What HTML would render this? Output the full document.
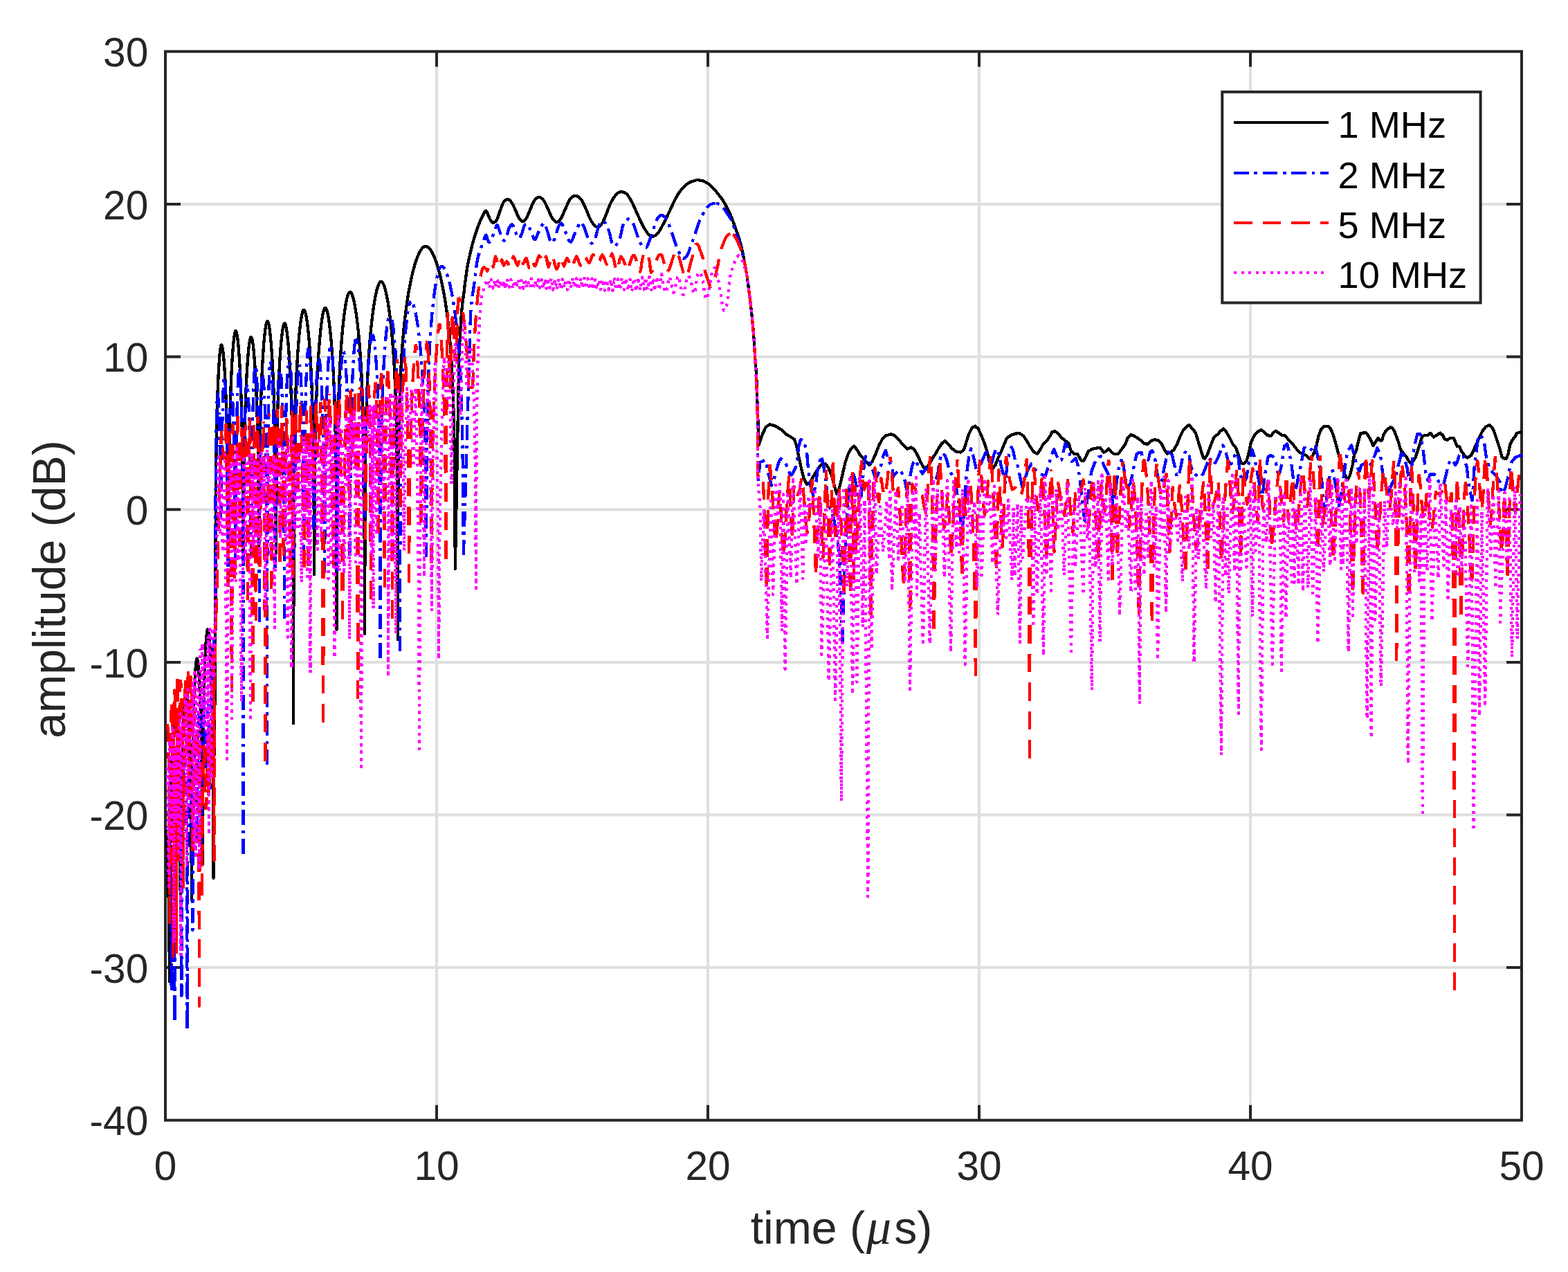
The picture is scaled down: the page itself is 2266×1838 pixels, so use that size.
<!DOCTYPE html>
<html lang="en"><head><meta charset="utf-8"><title>amplitude vs time</title>
<style>html,body{margin:0;padding:0;background:#fff}svg{display:block}text{font-family:"Liberation Sans",Arial,Helvetica,sans-serif;fill:#262626}.tk{font-size:58.6px}.lb{font-size:66.2px}.lg{font-size:54.2px;fill:#000}.mu{font-family:"Liberation Serif","DejaVu Serif",serif;font-style:italic;font-size:72px}</style></head><body>
<svg xmlns="http://www.w3.org/2000/svg" width="2266" height="1838" viewBox="0 0 2266 1838">
<rect x="0" y="0" width="2266" height="1838" fill="#fff"/>
<path d="M631.0 74.4V1618.7M1023.0 74.4V1618.7M1415.0 74.4V1618.7M1807.0 74.4V1618.7M239.0 295.0H2199.0M239.0 515.6H2199.0M239.0 736.2H2199.0M239.0 956.9H2199.0M239.0 1177.5H2199.0M239.0 1398.1H2199.0" stroke="#dfdfdf" stroke-width="4" fill="none"/>
<path d="M631.0 1618.7v-22M631.0 74.4v22M1023.0 1618.7v-22M1023.0 74.4v22M1415.0 1618.7v-22M1415.0 74.4v22M1807.0 1618.7v-22M1807.0 74.4v22M239.0 295.0h22M2199.0 295.0h-22M239.0 515.6h22M2199.0 515.6h-22M239.0 736.2h22M2199.0 736.2h-22M239.0 956.9h22M2199.0 956.9h-22M239.0 1177.5h22M2199.0 1177.5h-22M239.0 1398.1h22M2199.0 1398.1h-22" stroke="#262626" stroke-width="4" fill="none"/>
<rect x="239.0" y="74.4" width="1960.0" height="1544.3" fill="none" stroke="#262626" stroke-width="4"/>
<clipPath id="cp"><rect x="237.0" y="72.4" width="1964.0" height="1548.3"/></clipPath>
<g clip-path="url(#cp)" fill="none" stroke-linejoin="round" shape-rendering="crispEdges">
<path d="M239.5 1200L240.1 1202.3L240.8 1209L241.4 1219.8L242.1 1234.9L242.7 1254.8L243.4 1281L244 1317.9L244.7 1380L245.3 1418.6L245.9 1245.8L246.6 1183.7L247.2 1147.2L247.9 1121L248.5 1100.6L249.2 1084.2L249.8 1070.7L250.4 1059.8L251.1 1051.3L251.7 1045.1L252.4 1041.3L253 1040L253.6 1041.1L254.2 1044.4L254.8 1049.7L255.5 1057L256.1 1066.2L256.7 1077.6L257.3 1091.3L257.9 1107.9L258.5 1128.3L259.2 1154.5L259.8 1190.9L260.4 1253L261 1330L261.6 1219.7L262.2 1157.6L262.8 1121.2L263.4 1095.1L264 1074.7L264.6 1058.1L265.2 1044.2L265.9 1032.5L266.5 1022.7L267.1 1014.7L267.7 1008.4L268.3 1003.8L268.9 1001L269.5 1000L270.1 1001.3L270.8 1005.1L271.4 1011.3L272 1019.8L272.6 1030.7L273.2 1044.2L273.9 1060.6L274.5 1081L275.1 1107.2L275.8 1143.7L276.4 1205.8L277 1300L277.6 1164.6L278.2 1102.5L278.8 1066.1L279.4 1039.9L280 1019.5L280.6 1002.9L281.2 989.2L281.8 977.8L282.4 968.6L283 961.3L283.6 956L284.2 952.7L284.8 951.6L285.4 952.9L286.1 956.7L286.7 962.9L287.4 971.4L288 982.3L288.6 995.8L289.3 1012.2L289.9 1032.6L290.6 1058.8L291.2 1095.3L291.9 1157.4L292.5 1250L293.1 1115.3L293.8 1053.2L294.4 1016.7L295.1 990.5L295.7 970.1L296.4 953.7L297 940.2L297.6 929.3L298.3 920.8L298.9 914.6L299.6 910.8L300.2 909.5L300.8 910.6L301.5 913.9L302.1 919.2L302.8 926.5L303.4 935.7L304 947.1L304.7 960.8L305.3 977.4L305.9 997.8L306.6 1024L307.2 1060.4L307.9 1122.5L308.5 1269L309.2 1107.2L309.9 1044.2L310.5 1011.3L311.2 1000L311.7 738.6L312.2 676.3L312.7 640L313.2 614.1L313.7 593.9L314.2 577.3L314.7 563.2L315.2 551L315.7 540.5L316.2 531.3L316.7 523.3L317.2 516.4L317.7 510.7L318.2 506L318.7 502.4L319.2 499.9L319.7 498.5L320.2 498.4L320.7 499.2L321.2 501L321.7 503.5L322.2 507L322.7 511.2L323.2 516.3L323.7 522.2L324.2 528.9L324.7 536.5L325.2 545.2L325.7 554.9L326.2 565.9L326.7 578.4L327.2 592.9L327.7 610.1L328.2 631.2L328.7 658.6L329.2 698.1L329.7 771.4L330.1 800L330.6 735.5L331.1 673L331.6 636.7L332.1 610.9L332.6 590.8L333.1 574.2L333.6 560.2L334.1 548L334.6 537.2L335.1 527.7L335.6 519.2L336.1 511.6L336.6 504.8L337.1 498.9L337.6 493.7L338.1 489.2L338.6 485.5L339.1 482.5L339.6 480.3L340.1 478.9L340.6 478.3L341.1 478.6L341.6 479.6L342.1 481.4L342.6 483.9L343.1 487.2L343.6 491.1L344.1 495.7L344.6 501.1L345.1 507.2L345.6 514L346.1 521.7L346.6 530.2L347.1 539.8L347.6 550.5L348.1 562.7L348.6 576.8L349.1 593.3L349.6 613.4L350.1 639.2L350.6 675.5L351.1 738L351.6 800L352.1 749.3L352.6 686.7L353.1 650.4L353.6 624.7L354.1 604.6L354.6 588.1L355.1 574L355.6 561.8L356.1 551L356.6 541.5L357.1 532.9L357.6 525.2L358.1 518.3L358.6 512.1L359.1 506.6L359.6 501.8L360.1 497.7L360.6 494.2L361.1 491.4L361.6 489.3L362.1 487.8L362.6 487.2L363.1 487.2L363.6 488L364.1 489.5L364.6 491.7L365.1 494.4L365.6 497.9L366.1 501.9L366.6 506.6L367.1 511.9L367.6 517.9L368.1 524.6L368.6 532L369.1 540.3L369.6 549.5L370.1 559.8L370.6 571.4L371.1 584.6L371.6 600L372.1 618.5L372.6 641.6L373.1 672.8L373.6 721.2L374.1 800L374.8 734L375.3 671.3L375.8 635L376.3 609.2L376.8 589.2L377.3 572.7L377.8 558.7L378.3 546.5L378.8 535.8L379.3 526.1L379.8 517.5L380.3 509.6L380.8 502.5L381.3 496.1L381.8 490.3L382.3 485.1L382.8 480.5L383.3 476.5L383.8 472.9L384.3 470L384.8 467.6L385.3 465.8L385.8 464.6L386.3 464.1L386.8 464.1L387.3 464.8L387.8 466.1L388.3 468L388.8 470.4L389.3 473.5L389.8 477L390.3 481.1L390.8 485.8L391.3 491L391.8 496.8L392.3 503.3L392.8 510.4L393.3 518.2L393.8 526.9L394.3 536.5L394.8 547.3L395.3 559.5L395.8 573.5L396.3 589.9L396.8 610L397.3 635.7L397.8 672L398.3 734.7L398.8 800L399.3 738.7L399.8 676L400.3 639.6L400.8 613.9L401.3 593.8L401.8 577.4L402.3 563.4L402.8 551.2L403.3 540.5L403.8 530.8L404.3 522.1L404.8 514.3L405.3 507.2L405.8 500.7L406.3 494.9L406.8 489.6L407.3 484.9L407.8 480.8L408.3 477.2L408.8 474.1L409.3 471.6L409.8 469.6L410.3 468.2L410.8 467.4L411.3 467.2L411.8 467.6L412.3 468.6L412.8 470.1L413.3 472.1L413.8 474.7L414.3 477.7L414.8 481.2L415.3 485.3L415.8 489.8L416.3 494.9L416.8 500.5L417.3 506.7L417.8 513.5L418.3 520.9L418.8 529.1L419.3 538.2L419.8 548.2L420.3 559.5L420.8 572.3L421.3 587.2L421.8 604.9L422.3 626.9L422.8 656L423.3 699.6L423.8 789.2L424.1 1045.3L424.6 737.4L425.1 674.4L425.6 638L426.1 612.2L426.6 592.2L427.1 575.9L427.6 562L428.1 549.9L428.6 539.1L429.1 529.5L429.6 520.8L430.1 512.9L430.6 505.6L431.1 498.9L431.6 492.7L432.1 486.9L432.6 481.7L433.1 476.8L433.6 472.3L434.1 468.3L434.6 464.6L435.1 461.2L435.6 458.2L436.1 455.6L436.6 453.4L437.1 451.5L437.6 450L438.1 448.9L438.6 448.2L439.1 447.9L439.6 448L440.1 448.6L440.6 449.6L441.1 450.9L441.6 452.7L442.1 454.8L442.6 457.3L443.1 460.1L443.6 463.4L444.1 467L444.6 471L445.1 475.3L445.6 480.1L446.1 485.3L446.6 490.9L447.1 497L447.6 503.6L448.1 510.7L448.6 518.6L449.1 527.1L449.6 536.5L450.1 547L450.6 558.8L451.1 572.3L451.6 588.1L452.1 607.3L452.6 631.6L453.1 665.2L453.6 720.1L454.1 830L454.7 739.3L455.2 676.2L455.7 639.8L456.2 614L456.7 594.1L457.2 577.7L457.7 563.8L458.2 551.7L458.7 541L459.2 531.4L459.7 522.7L460.2 514.8L460.7 507.5L461.2 500.7L461.7 494.5L462.2 488.7L462.7 483.3L463.2 478.4L463.7 473.8L464.2 469.6L464.7 465.7L465.2 462.1L465.7 458.9L466.2 456L466.7 453.5L467.2 451.2L467.7 449.3L468.2 447.8L468.7 446.6L469.2 445.7L469.7 445.2L470.2 445.1L470.7 445.4L471.2 446L471.7 446.9L472.2 448.2L472.7 449.8L473.2 451.7L473.7 453.9L474.2 456.4L474.7 459.3L475.2 462.4L475.7 465.9L476.2 469.7L476.7 473.8L477.2 478.2L477.7 483L478.2 488.2L478.7 493.7L479.2 499.7L479.7 506.2L480.2 513.1L480.7 520.7L481.2 529L481.7 538L482.2 548L482.7 559.2L483.2 571.9L483.7 586.7L484.2 604.3L484.7 626.2L485.2 655.4L485.7 699.2L486.2 789.3L486.5 909.8L487 733.5L487.5 670.1L488 633.5L488.5 607.7L489 587.8L489.5 571.4L490 557.6L490.5 545.6L491 535L491.5 525.4L492 516.7L492.5 508.8L493 501.5L493.5 494.7L494 488.4L494.5 482.5L495 477L495.5 471.8L496 467L496.5 462.4L497 458.2L497.5 454.2L498 450.4L498.5 446.9L499 443.6L499.5 440.6L500 437.7L500.5 435.1L501 432.8L501.5 430.6L502 428.7L502.5 427L503 425.6L503.5 424.4L504 423.4L504.5 422.6L505 422.2L505.5 421.9L506 421.9L506.5 422.2L507 422.6L507.5 423.2L508 424.1L508.5 425.1L509 426.3L509.5 427.7L510 429.3L510.5 431.1L511 433L511.5 435.2L512 437.5L512.5 440L513 442.7L513.5 445.5L514 448.6L514.5 451.8L515 455.3L515.5 458.9L516 462.8L516.5 466.9L517 471.2L517.5 475.8L518 480.7L518.5 485.8L519 491.3L519.5 497.1L520 503.4L520.5 510L521 517.2L521.5 525L522 533.5L522.5 542.8L523 553.1L523.5 564.8L524 578.2L524.5 593.9L525 613.1L525.5 637.5L526 671.3L526.5 726.7L527 894.2L527.1 915.7L527.6 737.5L528.1 673.9L528.6 637.1L529.1 611.2L529.6 591.2L530.1 574.9L530.6 561.1L531.1 549.1L531.6 538.6L532.1 529.1L532.6 520.5L533.1 512.6L533.6 505.3L534.1 498.6L534.6 492.3L535.1 486.4L535.6 480.8L536.1 475.6L536.6 470.7L537.1 466L537.6 461.6L538.1 457.4L538.6 453.4L539.1 449.6L539.6 446L540.1 442.5L540.6 439.3L541.1 436.2L541.6 433.3L542.1 430.5L542.6 427.9L543.1 425.5L543.6 423.2L544.1 421L544.6 419L545.1 417.1L545.6 415.4L546.1 413.9L546.6 412.5L547.1 411.2L547.6 410.1L548.1 409.2L548.6 408.4L549.1 407.8L549.6 407.3L550.1 407L550.6 406.9L551.1 407L551.6 407.2L552.1 407.5L552.6 408.1L553.1 408.8L553.6 409.6L554.1 410.6L554.6 411.8L555.1 413.1L555.6 414.5L556.1 416.1L556.6 417.8L557.1 419.7L557.6 421.7L558.1 423.8L558.6 426.1L559.1 428.6L559.6 431.1L560.1 433.9L560.6 436.8L561.1 439.8L561.6 443L562.1 446.4L562.6 450L563.1 453.7L563.6 457.6L564.1 461.8L564.6 466.1L565.1 470.7L565.6 475.5L566.1 480.6L566.6 486L567.1 491.8L567.6 497.9L568.1 504.5L568.6 511.5L569.1 519.1L569.6 527.4L570.1 536.5L570.6 546.6L571.1 558L571.6 571L572.1 586.2L572.6 604.5L573.1 627.7L573.6 659.2L574.1 708.4L574.6 825L574.8 923.8L575.3 736.2L575.8 671.8L576.3 634.5L576.8 608.4L577.3 588.2L577.8 571.7L578.3 557.9L578.8 545.9L579.3 535.4L579.8 525.9L580.3 517.4L580.8 509.6L581.3 502.5L581.8 495.8L582.3 489.6L582.8 483.8L583.3 478.4L583.8 473.2L584.3 468.3L584.8 463.7L585.3 459.2L585.8 455L586.3 451L586.8 447.1L587.3 443.4L587.8 439.8L588.3 436.3L588.8 433L589.3 429.8L589.8 426.7L590.3 423.7L590.8 420.8L591.3 418L591.8 415.3L592.3 412.6L592.8 410.1L593.3 407.6L593.8 405.2L594.3 402.9L594.8 400.6L595.3 398.4L595.8 396.3L596.3 394.2L596.8 392.2L597.3 390.3L597.8 388.4L598.3 386.5L598.8 384.8L599.3 383L599.8 381.4L600.3 379.8L600.8 378.2L601.3 376.7L601.8 375.3L602.3 373.9L602.8 372.5L603.3 371.2L603.8 370L604.3 368.8L604.8 367.7L605.3 366.6L605.8 365.6L606.3 364.6L606.8 363.6L607.3 362.8L607.8 361.9L608.3 361.1L608.8 360.4L609.3 359.8L609.8 359.1L610.3 358.6L610.8 358.1L611.3 357.6L611.8 357.2L612.3 356.9L612.8 356.6L613.3 356.3L613.8 356.2L614.3 356.1L614.8 356L615.3 356L615.8 356.1L616.3 356.2L616.8 356.3L617.3 356.6L617.8 356.8L618.3 357.1L618.8 357.5L619.3 357.9L619.8 358.3L620.3 358.9L620.8 359.4L621.3 360L621.8 360.6L622.3 361.3L622.8 362.1L623.3 362.9L623.8 363.7L624.3 364.6L624.8 365.5L625.3 366.4L625.8 367.4L626.3 368.5L626.8 369.6L627.3 370.7L627.8 371.9L628.3 373.2L628.8 374.4L629.3 375.8L629.8 377.1L630.3 378.5L630.8 380L631.3 381.5L631.8 383.1L632.3 384.7L632.8 386.3L633.3 388L633.8 389.8L634.3 391.6L634.8 393.4L635.3 395.4L635.8 397.3L636.3 399.3L636.8 401.4L637.3 403.6L637.8 405.8L638.3 408L638.8 410.3L639.3 412.7L639.8 415.2L640.3 417.7L640.8 420.4L641.3 423L641.8 425.8L642.3 428.7L642.8 431.7L643.3 434.7L643.8 437.9L644.3 441.2L644.8 444.5L645.3 448.1L645.8 451.7L646.3 455.5L646.8 459.5L647.3 463.6L647.8 468L648.3 472.5L648.8 477.3L649.3 482.3L649.8 487.7L650.3 493.3L650.8 499.3L651.3 505.8L651.8 512.7L652.3 520.3L652.8 528.5L653.3 537.5L653.8 547.6L654.3 558.9L654.8 572L655.3 587.3L655.8 605.8L656.3 629.3L656.8 661.2L657.3 711.1L657.8 822.2L663.4 512.1L664 500.9L664.9 484.7L665.9 467.6L666.9 453.6L667.7 444.2L668.5 437L669.4 430.5L670.4 423.3L671.4 414.7L672.6 405.6L673.8 396.6L675 388.2L676.4 380.6L677.9 373.3L679.4 366.5L680.9 360.2L682.3 354.3L683.8 348.9L685.3 343.9L686.7 339.2L688.2 334.7L689.6 330.5L691.1 326.5L692.6 322.8L694.1 319.2L695.6 315.7L697.1 312.6L698.4 310L699.6 307.8L700.6 305.9L701.6 304.7L702.6 304.6L703.6 305.9L704.6 308.3L705.6 311.1L706.6 313.5L707.5 315.4L708.4 317.2L709.2 318.8L710.1 320L710.9 320.9L711.8 321.5L712.6 321.8L713.6 321.6L714.7 321.1L715.9 320.2L717.1 318.9L718.3 317L719.4 314.3L720.6 311L721.8 307.4L722.9 304.1L724.1 300.9L725.2 297.7L726.4 294.8L727.6 292.4L729 290.7L730.5 289.3L732 288.5L733.5 288.2L734.9 288.5L736.4 289.3L737.8 290.7L739.3 292.4L740.8 294.9L742.3 297.9L743.8 301.1L745.1 304.1L746.4 306.9L747.5 309.8L748.6 312.4L749.8 314.6L751.1 316.6L752.3 318.2L753.6 319.5L755 320L756.3 319.8L757.6 319L758.9 317.7L760.3 315.8L761.8 313.2L763.2 309.9L764.7 306.4L766.2 302.9L767.6 299.6L769 296L770.5 292.8L772 290.1L773.7 288L775.4 286.4L777.2 285.3L779 285L780.8 285.4L782.6 286.5L784.4 288.1L786 290.1L787.6 292.5L789 295.5L790.4 298.6L791.9 301.8L793.3 305.1L794.7 308.5L796.2 311.8L797.7 314.6L799.3 316.9L801 318.9L802.6 320.3L804.3 320.9L805.8 320.7L807.4 319.7L808.9 318.1L810.6 315.8L812.3 312.7L814 308.8L815.8 304.6L817.6 300.6L819.3 296.8L821.1 292.9L822.8 289.3L824.6 286.6L826.3 284.8L828.1 283.7L829.8 283.2L831.6 283.1L833.3 283.2L835.1 283.8L836.8 284.9L838.6 286.6L840.4 289.1L842.1 292.2L843.9 295.8L845.6 299.4L847.4 303.4L849.2 307.8L850.9 312.1L852.6 315.8L854.2 318.8L855.6 321.3L857.1 323.4L858.5 325.1L859.8 326.5L861.1 327.4L862.4 328L863.8 327.9L865.4 327.4L867 326.4L868.6 324.8L870.1 322.8L871.6 320.2L873 317.2L874.4 313.7L876 310L877.6 305.8L879.3 301.1L881.1 296.5L883 292.4L885 288.8L887.1 285.4L889.1 282.6L891.2 280.3L893.1 278.7L894.9 277.8L896.8 277.3L898.6 277.2L900.6 277.6L902.5 278.3L904.5 279.5L906.4 281.2L908.2 283.4L909.9 286.1L911.6 289.2L913.4 292.4L915.1 295.9L916.8 299.6L918.5 303.6L920.4 307.6L922.3 311.9L924.4 316.5L926.5 321L928.6 325.1L930.6 328.9L932.7 332.4L934.8 335.5L936.7 338L938.6 339.7L940.3 340.8L942 341.4L943.7 341.5L945.5 341.1L947.2 340.1L949 338.7L950.7 336.8L952.4 334.6L954.1 331.9L955.8 328.7L957.8 325.1L959.9 321L962.3 316.3L964.7 311.4L967.1 306.4L969.4 301.4L971.8 296.2L974.1 291.2L976.4 286.6L978.8 282.5L981.1 278.8L983.5 275.5L985.8 272.6L988.1 270L990.5 267.8L992.8 266L995.1 264.4L997.6 263.1L1000.1 262.2L1002.5 261.5L1004.5 260.9L1005.9 260.4L1006.8 260.2L1007.8 260.1L1009.2 260.2L1011.2 260.5L1013.5 260.9L1016.1 261.6L1018.5 262.5L1020.8 263.8L1023.2 265.3L1025.5 267.1L1027.9 269.1L1030.2 271.4L1032.5 273.9L1034.9 276.7L1037.2 279.6L1039.5 282.5L1041.9 285.5L1044.2 288.8L1046.5 292.4L1048.9 296.7L1051.4 301.4L1053.7 306.3L1055.9 311.1L1057.8 315.7L1059.5 320.3L1061.2 325L1062.9 329.8L1064.7 334.9L1066.5 340.2L1068.3 345.5L1069.9 350.8L1071.2 356L1072.4 361.1L1073.5 366.3L1074.6 371.9L1075.8 378L1077 384.4L1078.2 391L1079.3 397.6L1080.2 403.9L1081.1 410.1L1081.9 416.5L1082.8 423.3L1083.7 430.7L1084.6 438.6L1085.5 446.4L1086.3 453.6L1086.9 459.7L1087.5 465L1088 470.5L1088.6 477L1089.2 484.9L1089.8 493.8L1090.4 503L1090.9 512.1L1091.5 520.8L1092.2 529.6L1092.8 538.3L1093.3 547.1L1093.6 555.8L1093.9 564.5L1094.2 573.2L1094.4 582.1L1094.8 592.3L1095.1 603.3L1095.4 613.1L1095.6 620L1095.6 606.7L1096.8 642.9L1100.7 630.1L1106.6 617.2L1112.4 613.3L1120.6 615.6L1128.8 620.7L1135.8 627.3L1142.8 631.3L1147.9 634.8L1151 644.1L1154.5 660.5L1158 676.8L1161.5 690.8L1166.2 700.2L1170.8 696.7L1176.7 686.2L1182.5 676.8L1188.4 669.8L1193 670.3L1197.7 676.8L1202.4 688.5L1205.9 702.5L1209.4 714.2L1212.9 704.9L1216.4 690.8L1221.1 669.8L1225.7 655.8L1230.4 647.6L1234.4 644.6L1238.6 650L1243.3 658.1L1247.9 662.8L1252.6 668.6L1256.8 672.1L1260.8 666.3L1265.5 655.8L1270.1 644.1L1274.8 634.8L1279.5 629.6L1287.7 627.3L1293.5 629.6L1299.3 635.9L1305.2 642.9L1311 648.8L1316.9 646.4L1321.5 650L1326.2 658.1L1330.9 668.6L1335.6 676.8L1340.2 674.5L1343.7 669.8L1347.2 662.8L1351.9 655.8L1356.6 647.6L1361.3 640.6L1365.9 637.1L1370.6 641.8L1375.3 647.6L1381.1 652.3L1388.1 653.5L1392.8 650L1396.3 639.4L1399.8 627.8L1404.5 618.4L1409.2 615.6L1413.8 619.6L1418.5 630.1L1423.2 641.8L1426.7 653.5L1430.2 667.5L1433.7 678L1438.4 672.1L1441.9 662.8L1446.5 653.5L1451.2 641.8L1454.7 633.6L1460.6 628.9L1467.6 626.6L1473.4 626.1L1479.3 630.1L1483.9 637.1L1488.6 645.3L1494.4 653.5L1499.1 655.8L1503.8 648.8L1507.3 641.8L1514.3 634.8L1519 627.8L1520 624.3L1524.7 623.1L1529.3 626.6L1534 632.4L1539.9 637.1L1544.5 640.6L1548 652.3L1552.7 655.8L1557.4 656.3L1562.1 665.1L1565.6 666.3L1569.1 660.5L1572.6 652.3L1578.4 648.8L1584.3 647.6L1590.1 646.9L1594.8 653.5L1598.3 652.3L1601.8 648.3L1606.4 653.5L1610 655.8L1615.8 655.8L1620.5 650L1626.3 641.8L1629.8 632.4L1634.5 628.2L1639.2 630.1L1643.8 632.9L1649.7 637.1L1654.3 641.3L1659 641.8L1663.7 637.1L1668.4 635.2L1674.2 636.6L1678.9 641.8L1683.6 651.1L1687.1 655.8L1691.7 653.5L1696.4 650L1701.1 641.8L1705.7 630.1L1710.4 620.7L1715.1 616.1L1718.6 614.2L1723.3 619.6L1727.9 625.4L1731.4 637.1L1735 648.8L1738.5 660.5L1740.8 662.8L1744.3 658.1L1747.8 648.8L1751.3 639.4L1754.8 631.3L1759.5 627.8L1764.2 622.6L1768.1 619.6L1772.3 624.3L1777 632.4L1781.7 641.8L1786.4 647.6L1789.9 658.1L1793.4 668.6L1796.9 670.3L1801.5 666.3L1805 653.5L1807.9 639.4L1812.1 630.1L1816.7 624.3L1822.6 621.2L1827.2 624.3L1831.9 628.9L1836.6 630.1L1840.1 625.4L1843.6 622.6L1848.3 625.9L1852.9 628.9L1857.6 629.6L1862.3 635.9L1868.1 641.8L1872.8 647.6L1877.5 653.5L1882.1 655.8L1888 658.1L1892.7 662.8L1897.3 658.1L1902 646.4L1905.5 630.1L1909 620.7L1913.7 616.1L1919.5 616.1L1923 619.6L1926.5 627.8L1930 639.4L1933.6 653.5L1937.1 665.1L1940.6 676.8L1944.1 687.3L1947.6 693.2L1951.1 686.2L1954.6 672.1L1956.9 658.1L1960 651.1L1962.8 638.5L1966.3 625.9L1973.3 625.2L1976.8 628.7L1981 635.7L1984.5 644.1L1988 638.5L1991.5 632.9L1994.3 636.4L1997.1 636.4L1999.3 628.7L2002.1 623.8L2005.6 620.3L2009.1 617.2L2012.6 618.9L2015.4 623.8L2018.2 631.5L2021 638.5L2023.1 646.9L2025.9 652.5L2029.4 656.7L2032.9 660.9L2036.4 667.2L2038.5 669.1L2042.7 665.8L2045.5 660.9L2048.3 652.5L2051.1 644.1L2053.2 637.1L2055.3 630.1L2059.5 629L2063.7 628.7L2067.2 625.9L2072.1 631.5L2076.4 628.7L2081.3 625.6L2084.8 628.7L2087.6 634.3L2091.8 635.7L2096 632.9L2100.9 632.9L2103 638.5L2105.8 644.8L2109.3 645.5L2112.1 652.5L2115.6 656.7L2120.5 661.6L2126.1 658.1L2128.9 652.5L2131.7 645.5L2135.2 638.5L2138.7 630.1L2142.2 623.1L2147.1 616.8L2152.3 614L2156.3 617.5L2159.1 623.1L2161.9 631.5L2164.7 639.9L2167.5 648.3L2170.3 659.5L2173.1 662.3L2176.6 663L2179.4 656.7L2182.2 642.7L2185.7 635.7L2189.9 630.1L2192 625.9L2196.9 624.5L2199.7 623.8" stroke="#000" stroke-width="4.3"/>
<path d="M244.4 1160.1L245.1 1167.4L245.7 1188.4L246.4 1224.4L247.1 1287.4L247.7 1432.5L248.3 1248.3L248.9 1185.3L249.5 1149.3L250.2 1128.3L250.8 1120.9L251.6 1165.1L252.5 1476.6L253.3 1145.6L254.2 1101.4L254.8 1121.3L255.4 1182.4L256 1201.2L256.8 1163.5L257.5 1102.4L258.3 1082.5L259 1087.7L259.7 1102.4L260.4 1126.7L261 1163.5L261.7 1226.3L262.4 1439L263.1 1228.4L263.7 1165.6L264.4 1128.8L265.1 1104.5L265.7 1089.8L266.4 1084.6L267.1 1089.8L267.8 1104.5L268.5 1128.8L269.2 1165.6L269.9 1228.4L270.6 1488L271.2 1245.9L271.8 1183.1L272.4 1146.3L273 1122L273.6 1107.3L274.2 1102.1L274.9 1107.3L275.6 1122L276.3 1146.3L277 1183.1L277.7 1245.9L278.4 1343.8L279.1 1198.5L279.7 1135.4L280.3 1099.4L280.9 1078.4L281.6 1071.1L282.2 1078.4L282.8 1099.4L283.4 1135.4L284 1198.5L284.6 1212.7L285.3 1139.1L286 1076L286.7 1043.2L287.4 1031.8L288 1037L288.6 1051.7L289.3 1076L289.9 1112.9L290.5 1175.6L291.1 1248.6L291.9 1118.4L292.6 1055.4L293.4 1022.6L294.1 1011.2L294.7 1016.4L295.3 1031.1L296 1055.4L296.6 1092.2L297.2 1107.6L297.8 1107.6L298.4 1107.6L299.1 1083.3L299.7 1047.3L300.3 1026.3L300.9 1019L301.6 1026.3L302.2 1047.3L302.8 1083.3L303.4 1138.8L304 1138.8L304.7 1079.5L305.4 1016.5L306.1 980.5L306.8 959.5L307.5 952.1L311 900L311.5 726.8L312 664.3L312.5 627.3L313 601.7L313.5 583.9L314 573L314.5 569.2L315 571.2L315.5 576.8L316 586L316.5 598.7M319 748.2L318.5 704.2L318 664.3L317.5 636.4L317 615.2L316.5 598.7M319 748.2L319.9 731.6L320.4 669.5L320.9 632.7L321.4 606.4L321.9 586.3L322.4 570.6L322.9 558.6L323.4 550.1L323.9 545.2L324.4 544M329.4 819.4L328.9 727.5L328.4 669.5L327.9 634.2L327.4 608.7L326.9 588.9L326.4 573.3L325.9 561.2L325.4 552.2L324.9 546.5L324.4 544M329.4 819.4L330 757.1L330.5 695L331 658.3L331.5 632.1L332 611.8L332.5 595.8L333 583.4L333.5 574.1L334 568L334.5 565.2M340 809.7L339.5 728.3L339 682.5L338.5 651.9L338 628.9L337.5 610.8L337 596.2L336.5 584.5L336 575.6L335.5 569.3L335 565.7L334.5 565.2M340 809.7L340.7 732.3L341.2 670.3L341.7 633.7L342.2 607.4L342.7 587.1L343.2 570.8L343.7 557.7L344.2 547.4L344.7 539.8L345.2 534.9L345.7 532.8M351.5 1233.6L351.2 780L350.7 691.8L350.2 648.2L349.7 618.7L349.2 596.3L348.7 578.4L348.2 564.1L347.7 552.5L347.2 543.7L346.7 537.3L346.2 533.6L345.7 532.8M351.5 1233.6L352 754L352.5 691.9L353 655.3L353.5 629.1L354 608.7L354.5 592.5L355 579.5L355.5 569.4L356 562.1L356.5 557.6L357 556M363 803.4L362.5 747L362 692.7L361.5 658.9L361 634.1L360.5 614.6L360 598.7L359.5 585.7L359 575.2L358.5 567L358 561L357.5 557.3L357 556M363 803.4L363.6 733L364.1 670.9L364.6 634.4L365.1 608.2L365.6 587.8L366.1 571.3L366.6 557.8L367.1 546.8L367.6 538.2L368.1 531.7L368.6 527.5L369.1 525.8M374.8 899L374.6 808.3L374.1 695.2L373.6 646.9L373.1 615.3L372.6 591.7L372.1 573.1L371.6 558.2L371.1 546.2L370.6 537L370.1 530.5L369.6 526.7L369.1 525.8M374.8 899L375.3 725L375.8 662.9L376.3 626L376.8 599.8L377.3 579.8L377.8 564.6L378.3 553.4L378.8 546.2L379.3 543.1M386 1104.8L385.8 840.6L385.3 727.2L384.8 678.9L384.3 647.5L383.8 624L383.3 605.3L382.8 589.9L382.3 577.1L381.8 566.5L381.3 557.9L380.8 551.2L380.3 546.5L379.8 543.7L379.3 543.1M386 1104.8L386.5 705.9L387 643.8L387.5 607L388 580.7L388.5 560.7L389 545.3L389.5 533.8L390 526.1L390.5 522.3M397.5 820.7L397 711.5L396.5 663.2L396 631.8L395.5 608.4L395 589.7L394.5 574.2L394 561.2L393.5 550.3L393 541.3L392.5 534L392 528.4L391.5 524.5L391 522.4L390.5 522.3M397.5 820.7L398.2 752.4L398.7 690.3L399.2 653.9L399.7 627.8L400.2 607.4L400.7 590.8L401.2 576.9L401.7 565.2L402.2 555.4L402.7 547.4L403.2 541.1L403.7 536.5L404.2 533.7L404.7 532.7M411 894.5L410.7 789L410.2 700.8L409.7 657.3L409.2 627.8L408.7 605.4L408.2 587.5L407.7 572.7L407.2 560.6L406.7 550.7L406.2 543L405.7 537.4L405.2 533.9L404.7 532.7M411 894.5L411.5 733.9L412 671.8L412.5 635.3L413 609.2L413.5 588.9L414 572.2L414.5 558.4L415 546.8L415.5 537.2L416 529.5L416.5 523.5L417 519.4L417.5 517.2L418 516.9M425.2 806.3L425 805.1L424.5 705.7L424 659.9L423.5 629.7L423 606.8L422.5 588.5L422 573.3L421.5 560.4L421 549.4L420.5 540.2L420 532.5L419.5 526.3L419 521.6L418.5 518.5L418 516.9M425.2 806.3L425.8 752.3L426.2 690.1L426.8 653.8L427.2 627.8L427.8 607.4L428.2 590.7L428.8 576.7L429.2 564.9L429.8 554.8L430.2 546.3L430.8 539.4L431.2 534L431.8 530L432.2 527.7L432.8 527M439.2 809L438.8 740.7L438.2 678.6L437.8 642.2L437.2 616L436.8 595.6L436.2 579L435.8 565.3L435.2 553.9L434.8 544.6L434.2 537.2L433.8 531.8L433.2 528.3L432.8 527M439.2 809L439.8 716.5L440.2 654.4L440.8 618L441.2 591.8L441.8 571.4L442.2 554.8L442.8 541.1L443.2 529.7L443.8 520.4L444.2 513L444.8 507.6L445.2 504.1L445.8 502.8M453.2 765.4L452.8 728.1L452.2 665.9L451.8 629.6L451.2 603.6L450.8 583.2L450.2 566.5L449.8 552.5L449.2 540.7L448.8 530.6L448.2 522.1L447.8 515.2L447.2 509.8L446.8 505.8L446.2 503.5L445.8 502.8M453.2 765.4L453.8 743.1L454.2 680.9L454.8 644.6L455.2 618.6L455.8 598.2L456.2 581.5L456.8 567.5L457.2 555.7L457.8 545.6L458.2 537.1L458.8 530.2L459.2 524.8L459.8 520.8L460.2 518.5L460.8 517.8M469.1 828.1L468.8 774.7L468.2 701.6L467.8 662.1L467.2 634.6L466.8 613.4L466.2 596.2L465.8 581.6L465.2 569.1L464.8 558.4L464.2 549L463.8 541L463.2 534.2L462.8 528.5L462.2 524L461.8 520.7L461.2 518.6L460.8 517.8M469.1 828.1L469.6 736.7L470.1 674.4L470.6 638.1L471.1 612.2L471.6 591.9L472.1 575.3L472.6 561.2L473.1 549.1L473.6 538.6L474.1 529.5L474.6 521.7L475.1 515.1L475.6 509.7L476.1 505.5L476.6 502.4L477.1 500.5L477.6 500M487 826.2L486.6 792.4L486.1 703.5L485.6 660L485.1 630.8L484.6 608.7L484.1 590.8L483.6 575.8L483.1 562.9L482.6 551.7L482.1 541.8L481.6 533.2L481.1 525.6L480.6 519L480.1 513.4L479.6 508.8L479.1 505.1L478.6 502.4L478.1 500.7L477.6 500M487 826.2L487.5 753.8L488 691.5L488.5 655.2L489 629.3L489.5 609.1L490 592.5L490.5 578.4L491 566.2L491.5 555.6L492 546.2L492.5 538L493 530.8L493.5 524.7L494 519.5L494.5 515.2L495 511.9L495.5 509.6L496 508.3L496.5 508.1M505.5 803.4L505 729.6L504.5 678.5L504 646.1L503.5 622.3L503 603.3L502.5 587.6L502 574.1L501.5 562.4L501 552.2L500.5 543.2L500 535.3L499.5 528.5L499 522.6L498.5 517.7L498 513.8L497.5 510.9L497 508.9L496.5 508.1M505.5 803.4L506.1 730.3L506.6 668L507.1 631.7L507.6 605.9L508.1 585.6L508.6 569L509.1 554.9L509.6 542.8L510.1 532.2L510.6 522.9L511.1 514.9L511.6 508L512.1 502.1L512.6 497.3L513.1 493.6L513.6 490.9L514.1 489.4L514.6 489M526.1 746.1L525.6 714.1L525.1 670.6L524.6 641.4L524.1 619.4L523.6 601.7L523.1 586.8L522.6 573.9L522.1 562.6L521.6 552.6L521.1 543.6L520.6 535.4L520.1 528.1L519.6 521.5L519.1 515.5L518.6 510.2L518.1 505.4L517.6 501.3L517.1 497.7L516.6 494.8L516.1 492.4L515.6 490.6L515.1 489.5L514.6 489M526.1 746.1L526.9 746.1L527.4 688.5L527.9 652.2L528.4 626.4L528.9 606.3L529.4 589.9L529.9 575.8L530.4 563.7L530.9 552.9L531.4 543.3L531.9 534.6L532.4 526.8L532.9 519.8L533.4 513.4L533.9 507.7L534.4 502.6L534.9 498.1L535.4 494.2L535.9 490.9L536.4 488.1L536.9 486L537.4 484.5L537.9 483.6L538.4 483.4M549.5 950.6L549.4 894.6L548.9 729.1L548.4 674.5L547.9 641L547.4 616.6L546.9 597.3L546.4 581.4L545.9 567.7L545.4 555.9L544.9 545.3L544.4 536L543.9 527.6L543.4 520L542.9 513.3L542.4 507.2L541.9 501.9L541.4 497.2L540.9 493.2L540.4 489.9L539.9 487.2L539.4 485.2L538.9 484L538.4 483.4M549.5 950.6L550 738.2L550.5 675.3L551 638.9L551.5 613.2L552 593.2L552.5 576.8L553 562.9L553.5 550.7L554 540L554.5 530.4L555 521.7L555.5 513.7L556 506.5L556.5 499.8L557 493.7L557.5 488.1L558 483L558.5 478.3L559 474L559.5 470.2L560 466.8L560.5 463.8L561 461.3L561.5 459.1L562 457.4L562.5 456.2L563 455.3L563.5 455M578 940.7L577.5 740.1L577 677.2L576.5 640.8L576 615.1L575.5 595.1L575 578.7L574.5 564.8L574 552.7L573.5 541.9L573 532.3L572.5 523.6L572 515.6L571.5 508.4L571 501.7L570.5 495.5L570 489.9L569.5 484.7L569 480L568.5 475.7L568 471.8L567.5 468.2L567 465.1L566.5 462.4L566 460.1L565.5 458.3L565 456.8L564.5 455.7L564 455.1L563.5 455M578 940.7L578.5 730.8L579 667.7L579.5 631.3L580 605.5L580.5 585.5L581 569.2L581.5 555.3L582 543.2L582.5 532.5L583 522.9L583.5 514.2L584 506.3L584.5 498.9L585 492.2L585.5 485.9L586 480.2L586.5 474.8L587 469.8L587.5 465.2L588 461L588.5 457.1L589 453.5L589.5 450.3L590 447.3L590.5 444.7L591 442.5L591.5 440.5L592 438.9L592.5 437.7L593 436.7L593.5 436.2L594 436M616 805.4L615.5 760.1L615 696.6L614.5 659.9L614 634L613.5 614L613 597.7L612.5 583.9L612 571.9L611.5 561.3L611 551.8L610.5 543.2L610 535.3L609.5 528L609 521.3L608.5 515L608 509.1L607.5 503.5L607 498.3L606.5 493.4L606 488.7L605.5 484.3L605 480.2L604.5 476.2L604 472.5L603.5 469L603 465.6L602.5 462.5L602 459.5L601.5 456.7L601 454.1L600.5 451.7L600 449.4L599.5 447.3L599 445.4L598.5 443.7L598 442.1L597.5 440.7L597 439.5L596.5 438.4L596 437.6L595.5 436.9L595 436.4L594.5 436.1L594 436M616 805.4L616.5 709.1L617 645.6L617.5 608.9L618 583L618.5 563L619 546.7L619.5 532.9L620 520.9L620.5 510.3L621 500.8L621.5 492.2L622 484.3L622.5 477L623 470.3L623.5 464L624 458.1L624.5 452.5L625 447.3L625.5 442.4L626 437.7L626.5 433.3L627 429.2L627.5 425.2L628 421.5L628.5 418L629 414.6L629.5 411.5L630 408.5L630.5 405.7L631 403.1L631.5 400.7L632 398.4L632.5 396.3L633 394.4L633.5 392.7L634 391.1L634.5 389.7L635 388.5L635.5 387.4L636 386.6L636.5 385.9L637 385.4L637.5 385.1L638 385M669.9 802.2L669.5 764.4L669 689.2L668.5 648.8L668 621.1L667.5 600L667 583L666.5 568.8L666 556.5L665.5 545.7L665 536.1L664.5 527.4L664 519.4L663.5 512.1L663 505.3L662.5 499L662 493.1L661.5 487.5L661 482.3L660.5 477.3L660 472.5L659.5 468L659 463.8L658.5 459.7L658 455.7L657.5 452L657 448.4L656.5 444.9L656 441.6L655.5 438.4L655 435.3L654.5 432.3L654 429.4L653.5 426.7L653 424L652.5 421.5L652 419L651.5 416.7L651 414.4L650.5 412.2L650 410.1L649.5 408.1L649 406.2L648.5 404.4L648 402.6L647.5 400.9L647 399.3L646.5 397.8L646 396.4L645.5 395.1L645 393.8L644.5 392.6L644 391.5L643.5 390.5L643 389.6L642.5 388.7L642 388L641.5 387.3L641 386.7L640.5 386.2L640 385.8L639.5 385.4L639 385.2L638.5 385L638 385M669.9 802.2L680 453.6L680.6 447.5L681.4 438.8L682.3 430.2L683.4 422.6L684.6 415L685.8 406.8L687 397.3L688.2 387.3L689.3 378.8L690.5 373L691.6 368.8L692.9 364.8L694.3 360.4L695.9 356.1L697.5 351.9L699.2 347.1L700.8 342.3L702.2 339.6L703.1 340.5L703.8 343.4L704.5 346.1L705.4 348L706.4 349.8L707.5 350.2L708.8 348.6L710.2 345.7L711.5 342.6L712.8 339.6L713.9 336.3L715 333.2L716.2 329.7L717.4 326.2L718.6 324.8L719.7 326.7L720.9 330.6L722.1 334.4L723.1 337.3L724 340.1L725 342.6L725.9 344.7L726.9 346.5L727.9 347.5L729 347.6L730.2 346.8L731.4 344.9L732.6 340.9L733.8 335.7L734.9 331.5L735.9 329L736.9 327.4L737.8 326.2L738.8 325.1L739.7 324.4L740.7 324.8L741.9 326.9L743.1 330.2L744.3 333.2L745.3 335.8L746.2 338.2L747.2 340.2L748.2 342.1L749.2 343.6L750.1 344.3L750.9 344L751.7 342.9L752.4 341.4L753.2 339.8L753.9 337.9L754.8 335.6L755.7 332.5L756.6 329L757.7 326.2L759 324.5L760.4 323.6L761.8 323.6L763 325L764.1 327.2L765.3 329.7L766.4 332.3L767.6 335.1L768.8 337.9L770 341.1L771.2 344.3L772.3 346.3L773.2 346.4L773.9 345.2L774.6 343.7L775.3 342.4L776 340.7L777 338.5L778.3 335.4L780 331.8L781.6 328.6L783.3 325.7L784.9 323.3L786.3 322.1L787.3 323L788 325.1L788.6 327.4L789.4 329.2L790.1 331.2L791 333.8L792.1 337.7L793.3 342.3L794.5 346.1L795.7 348.7L796.8 350.4L798 351L799.2 349.8L800.4 347.4L801.5 344.9L802.3 342.7L803.1 340.5L803.8 337.9L804.8 334.6L805.8 331L806.8 328L807.7 326.1L808.7 324.8L809.7 323.9L810.5 323L811.2 322.6L812 323.1L813 324.9L814.2 327.6L815.5 330.9L817.1 334.9L818.7 339.4L820.2 343.2L821.3 345.6L822.2 347.2L823.1 348.4L823.9 349.2L824.7 349.6L825.4 349.3L826.2 348.3L827 346.6L827.8 344.9L828.3 343.6L828.8 342.2L829.5 340.2L830.9 337.1L832.5 333.3L834.2 329.7L835.8 326.2L837.5 322.9L838.9 321L840 321L840.9 322.3L841.8 323.9L842.8 325.4L843.7 327.3L844.7 329.7L845.8 333L847 336.7L848.2 340.2L849.4 343.3L850.6 346.1L851.7 348.4L852.9 350L854.1 351.1L855.2 351.6L856.3 351.1L857.3 350.1L858.2 349L858.8 348.4L859.3 347.7L859.9 346.1L860.8 342.9L861.8 338.9L862.8 335L863.8 331.4L864.8 327.9L865.7 325L866.7 323.2L867.7 321.9L868.7 321L869.6 320L870.6 319.3L871.6 319.2L872.7 319.9L873.9 321.1L875.1 322.7L876.3 324.7L877.5 327.1L878.6 329.7L879.6 332.6L880.6 335.8L881.5 339.1L882.3 342.7L883.1 346.5L883.9 349.6L884.8 351.7L885.8 353.2L886.8 354.3L887.6 355.2L888.3 355.8L889.1 355.7L890.2 354.6L891.4 352.8L892.6 350.7L893.8 348.7L895 346.4L896.1 343.7L897 340.4L897.7 336.8L898.5 333.2L899.2 329.9L899.9 326.6L900.8 323.9L901.9 321.7L903.1 320L904.3 318.6L905.6 317.5L906.9 316.8L907.8 316.3L911.7 318.5L912.6 319.5L913.9 321L915.2 323.2L916.4 326.1L917.5 329.5L918.7 333.1L919.9 336.6L921 340.2L922.2 343.6L923.4 346.6L924.5 349.4L925.7 351.8L926.9 353.7L928 355.3L929.2 356.4L930.4 357.2L931.6 357.5L932.7 357.6L933.5 357.7L934.2 357.5L935 356.4L936.1 354.2L937.3 351.1L938.6 347.7L939.9 344.1L941.3 340.2L942.6 336.6L943.7 333.3L944.6 330.3L945.6 327.2L946.7 324L947.9 320.7L949.1 317.9L950.2 315.7L951.4 314L952.6 312.6L953.7 311.7L954.9 311.1L956.1 310.9L957.2 311.1L958.4 311.7L959.6 312.6L960.9 313.8L962.3 315.3L963.7 317.3L964.9 319.9L966 323L967.2 326.1L968.3 329.1L969.5 332.2L970.7 335.4L971.8 338.8L973 342.4L974.2 345.9L975.3 349.5L976.5 353L977.7 356.4L979 359.7L980.4 362.9L981.8 365.8L983.2 368.8L984.5 371.5L985.9 373.4L987.1 374L988.2 373.6L989.4 372.8L990.7 371.8L992.1 370.3L993.5 368.1L994.9 365L996.3 361.2L997.5 357.6L998.6 354.8L999.5 352.2L1000.5 349.4L1001.6 346.3L1002.8 342.9L1004 339.5L1005.1 336L1006.3 332.5L1007.5 329L1008.6 325.6L1009.7 322.3L1011 319.1L1012.5 315.9L1014.1 312.7L1015.7 309.7L1017.2 306.8L1018.8 304L1020.3 301.5L1021.7 299.6L1023.1 298.1L1024.4 296.9L1025.7 295.9L1027 295.3L1028.5 294.8L1030.4 294.3L1032.4 294L1034.3 293.9M1217.6 929.5L1216 880L1213 800L1208.5 768.6L1204.9 749.1L1201.3 736.7L1198.2 732.6L1196.2 722.3L1193.1 690.5L1191 680.2L1190 669.9L1186.4 658.6L1181.8 678.1L1179.2 697.7L1175.6 716.2L1172.5 707.9L1169.4 692.5L1168.4 678.1L1166.9 666.8L1166.4 657.1L1162.2 637.5L1157.1 635L1154 646.3L1152 665.8L1149.4 676.1L1145.8 683.3L1143.7 686.4L1141.7 685.3L1138.6 676.1L1133.5 666.3L1128.3 662.7L1126.3 665.8L1121.6 680.2L1119.1 690.5L1115 701.8L1112.9 693.6L1110.3 684.3L1107.8 672L1105.7 664.8L1098.5 667.9L1095.4 695.6L1095.4 695L1095.2 650L1095 620L1094.4 582L1093 550L1090.9 512L1088.7 480L1086.3 453.6L1083 425L1079.3 397.6L1075.2 375.1L1074 370.5L1072.3 363.9L1070.6 357.6L1069 352.3L1067.4 347.2L1065.9 342.4L1064.3 337.9L1062.7 333.6L1061.2 329.6L1059.9 325.7L1058.6 321.9L1057.1 318.5L1055.5 315.4L1053.7 312.5L1051.9 309.7L1050 306.9L1048.1 304.1L1046 301.5L1043.7 299.1L1041.2 296.8L1039 295.1L1037.3 294.3L1035.9 294L1034.3 293.9M1217.6 929.5L1219 880L1221 800L1223.9 752L1227 707.9L1229.1 693.6L1232.1 682.2L1235.2 690.5L1238.8 709L1241.4 721.8L1244.5 717.2L1245.5 701.8L1247.1 691L1248.1 679.2L1250.7 659.6L1252.7 660.7L1256.8 665.8L1259.4 674L1264 687.4L1267.1 689.4L1272.2 677.1L1276.4 658.6L1280 650.9L1283 662.7L1285.6 667.9L1289.7 678.1L1290 689.3L1294.7 683.5L1300.5 678.8L1304 684.6L1307.5 694L1311 710.9L1313.9 699.8L1315.1 689.3L1318 674.1L1321 665.7L1323.9 665.4L1326.2 671.8L1329.7 678.8L1333.2 684.6L1336.7 678.8L1339.1 676.4L1342.6 682.3L1347.2 691.6L1351.9 695.1L1355.4 684.6L1357.2 669.4L1360.1 657.8L1362.4 654.3L1365.9 658.9L1368.3 664.8L1370.6 674.1L1372.9 680L1378.8 694L1382.3 706.8L1385.8 730.2L1389.9 769.9L1393.4 741.9L1395.1 718.5L1395.7 697.5L1396.9 685.8L1398.6 671.8L1401 655.4L1403.3 648.4L1406.8 660.1L1411.5 681.1L1413.8 683.5L1416.8 671.8L1420.8 662.4L1424.3 654.3L1426.1 654L1428.4 663.6L1431.9 672.9L1433.7 667.1L1436 657.8L1439.5 648.4L1444.2 657.8L1446.5 671.8L1450 685.8L1453 697.5L1455.9 667.1L1458.2 656.6L1461.7 646.1L1464.1 650.7L1466.4 662.4L1471.1 674.1L1474.6 691.6L1478.1 706.8L1481.6 691.6L1484.5 681.1L1490.4 670.4L1493.3 674.1L1496.2 678.8L1501.4 683.5L1506.1 685.8L1510.2 689.3L1514.3 676.4L1519.6 657.8L1523.1 649L1527.1 658.9L1530.7 665.9L1534.2 664.8L1536.5 653.7L1539.4 641.4L1540 640.2L1543.5 648.4L1548.8 667.1L1551.7 664.8L1554.6 661.8L1557.5 671.8L1560.4 690.5L1563.4 718.5L1567.5 752.4L1571 724.3L1573.9 701L1577.4 681.1L1580.9 671.8L1584.4 663L1587.9 660.1L1591.4 659.5L1594.9 671.8L1599.6 681.1L1603.1 688.1L1605.4 706.8L1608.3 727.9L1611.8 712.7L1614.2 692.8L1617.1 674.1L1620.6 664.8L1623.5 671.8L1626.4 692.8L1630 703.9L1633.5 698.6L1637 683.5L1639.9 667.1L1642.8 656L1646.3 653.7L1649.8 654.3L1652.1 664.8L1654.5 671.2L1657.4 668.3L1659.7 664.2L1662.1 653.1L1665 651.3L1668.5 657.8L1670.3 671.8L1673.2 689.3L1676.1 699.2L1679.6 692.8L1681.9 678.8L1686 660.1L1690.7 649.6L1694.2 658.9L1697.7 674.1L1700.6 688.7L1703.6 687L1706.5 674.1L1709.4 660.1L1714.1 651.3L1718.7 658.9L1720.5 671.8L1724.6 683.5L1729.3 687L1733.9 689.9L1738.6 684.6L1742.1 676.4L1747.9 661.3L1751.4 667.7L1755 671.2L1759.6 662.4L1763.1 654.3L1767.2 643.2L1770.7 650.7L1774.8 665.9L1779.5 670.6L1783.6 660.1L1786.5 653.7L1789.4 660.1L1790 664.8L1791.2 677.6L1793.5 689.3L1795.8 698.6L1799.3 695.1L1801.7 689.3L1804 671.8L1807.5 660.1L1809.3 649.6L1812.2 657.8L1815.1 671.8L1819.2 695.1L1824.5 716.8L1827.4 689.3L1829.7 676.4L1832.6 660.1L1835.6 658.3L1839.1 658.9L1843.7 668.3L1847.2 685.8L1849.6 682.3L1851.3 675.3L1853.1 664.8L1856 644.9L1860.1 641.4L1863 653.1L1866.5 671.8L1869.4 695.1L1871.8 709.2L1874.7 698.6L1876.4 687L1879.4 675.3L1882.3 660.1L1884.6 647.2L1886.4 647L1889.9 649.6L1893.4 651.3L1896.9 647.2L1900.4 642.6L1903.9 657.8L1905.7 668.3L1907.4 678.8L1910.3 695.1L1912.1 718.5L1913.8 738.4L1916.8 724.3L1919.1 706.8L1922 683.5L1926.1 680L1929 695.1L1931.4 709.2L1934.9 731.4L1937.8 716.2L1940.7 695.1L1943 681.1L1945.4 662.4L1948.3 651.3L1953 643.2L1955.9 653.1L1958.2 662.4L1961.1 674.1L1964.6 681.1L1967.6 671.8L1972.2 670L1976.9 673.5L1981 670.6L1984.5 662.4L1987.4 656.6L1990.4 647.2L1993.3 653.1L1995.6 662.4L1999.1 691.6L2002.6 702.1L2006.1 712.7L2009.6 704.5L2012 697.5L2016.6 691.6L2018.4 681.1L2023.1 663.6L2026 650.7L2029.5 662.4L2033.6 676.4L2035.3 688.1L2038.2 695.1L2042 656.7L2045.5 638.5L2048.3 627.3L2052.5 627.3L2056 645.5L2057.4 656.7L2058.8 669.3L2060.9 686.2L2063.7 694.6L2066.5 685.5L2073.6 685.5L2079.2 696L2086.2 700.2L2089.7 686.2L2093.2 670.7L2096.7 665.1L2099.5 664.4L2103 672.1L2105.8 667.9L2108.6 658.1L2110.7 655.3L2114.2 656.7L2119.8 675L2122.6 701.6L2127.5 723.3L2129.6 691.8L2131 669.3L2133.8 651.1L2135.2 637.1L2138.7 627.3L2142.2 632.9L2145 639.9L2147.9 660.9L2153.5 679.2L2161.9 687.6L2167.5 696L2170.3 712.8L2175.2 705.8L2178.7 691.8L2180.8 680.6L2184.3 667.9L2189.9 660.9L2196.9 658.1L2201.1 658.8" stroke="#0000ff" stroke-width="4.3" stroke-dasharray="21.7 7.6 4.6 7.7"/>
<path d="M242.1 1045.9L242.8 1057.3L243.6 1090.1L244.3 1153.2L245.1 1335.6L245.8 1141.8L246.4 1078.8L247.1 1042.8L247.8 1021.8L248.4 1014.4L249 1034.3L249.7 1095.5L250.3 1385.4L251 1078.6L251.6 1017.4L252.3 997.6L253 1008.9L253.6 1041.8L254.3 1104.8L255 1376L255.8 1021.2L256.6 977L257.3 1021.2L258.1 1242.7L258.8 1090.8L259.5 1027.8L260.2 995L261 983.6L261.6 988.8L262.3 1003.5L263 1027.8L263.7 1064.6L264.3 1127.4L265 1284.9L265.7 1088.7L266.3 1025.6L267 992.8L267.6 981.4L268.3 1001.3L269 1062.5L269.7 1097.6L270.5 1047.6L271.3 986.4L272.1 966.6L272.8 1010.7L273.5 1151.7L274.3 1059.2L275 998L275.8 978.1L276.5 989.5L277.2 1022.3L277.8 1085.4L278.5 1233.6L279.2 1041.9L279.9 997.7L280.6 1017.6L281.4 1078.7L282.1 1155L282.7 1155L283.4 1097.4L284 1064.6L284.7 1053.3L285.3 1060.6L286 1081.6L286.7 1117.6L287.3 1180.6L288 1453.8L288.7 1120.7L289.4 1076.5L290 1087.8L290.7 1120.7L291.3 1183.7L292 1298.3L292.6 1185.8L293.3 1122.8L293.9 1090L294.5 1078.6L295.1 1086L295.8 1107L296.4 1143L297 1168.3L297.6 1168.3L298.3 1168.3L299 1111.9L299.7 1079L300.3 1067.7L301 1087.5L301.6 1148.7L302.2 1150.6L302.8 1134.1L303.4 1072.9L304 1053.1L304.8 1072.9L305.5 1113.5L306.3 1113.5L307.1 982L308 937.8L308.7 982L309.4 1243.5L310.1 998.5L310.8 935.5L311.5 902.6L312.2 891.3M312.2 891.3L319.9 623.6L321.2 639.3L322.5 654.4L323.9 662.1L325.2 644.9L326.6 612.3M329.5 848.1L328 700.7L326.6 612.3M329.5 848.1L330.5 708.2L331.5 623M335 1000L333.8 806.2L332.7 706.3L331.5 623M335 1000L335.7 745.8L336.5 611.6M339.2 835.8L337.8 696.5L336.5 611.6M339.2 835.8L340.3 749.6L341.4 689.2L342.5 640.9L343.7 601.1M346.6 790.5L345.1 675.6L343.7 601.1M346.6 790.5L348 688.4L349.3 619.4L350.3 650.3L351.3 663.5L352.5 653.6L353.7 632L354.9 614.2M358.1 867.5L357 747.9L356 672.8L354.9 614.2M358.1 867.5L359.5 700.9L360.9 604.2M365.4 1013.6L364.3 831.3L363.1 744.7L362 670.2L360.9 604.2M365.4 1013.6L366.3 750.5L367.2 612.5M370 897L368.6 715.5L367.2 612.5M370 897L371.2 708.1L372.4 601.8M375.6 819.1L374.5 721.2L373.5 653.2L372.4 601.8M375.6 819.1L376.6 761L377.7 710.6L378.7 671L379.7 637.5L380.8 609.4M383.6 1100L382.2 774.2L380.8 609.4M383.6 1100L384.7 889.8L385.8 804.3L387 729.6L388.1 661L389.2 597.7M392.3 851.3L391.3 731.6L390.3 656.4L389.2 597.7M392.3 851.3L393.5 695.2L394.6 603.1M396.9 725L395.7 657.3L394.6 603.1M396.9 725L398.1 677L399.4 625.8L400.7 591M404.6 811.7L403.3 711.7L402 643.1L400.7 591M404.6 811.7L405.8 671.4L407 586M409.8 803.3L408.4 668.9L407 586M409.8 803.3L410.9 736.8L412 681.8L413.2 638.8L414.3 604.4M419.6 820.5L418.5 759.1L417.5 708L416.4 667.6L415.4 633.3L414.3 604.4M419.6 820.5L420.8 679.5L422 593.9M423.4 835.4L422.7 684L422 593.9M423.4 835.4L424.6 718L425.8 643.6L427 585.7M430.6 708.3L429.4 667.2L428.2 618.2L427 585.7M430.6 708.3L431.7 665.1L432.8 615.5L434 582.4M439.7 820.4L438.5 747.6L437.4 693.8L436.3 650.8L435.1 613.9L434 582.4M439.7 820.4L440.8 716.2L441.9 646.2L443.1 592.8M445.5 818.2L444.3 678.1L443.1 592.8M445.5 818.2L446.7 712.6L447.9 642.2L449.1 588.3L450.1 608.3L451.2 636.9L452.2 676L453.3 691.4L454.5 658.6L455.6 612.4L456.8 582.8L458 623.4L459.3 659.5L460.3 647.8L461.4 622.5L462.5 597.7L463.5 581.4M467 1043.6L465.8 798.7L464.7 681.8L463.5 581.4M467 1043.6L468.2 735.1L469.3 577.6L470.7 616.4L472 648L473.1 636.2L474.2 610.6L475.2 585.7L476.3 569.4M481.9 820.3L480.8 740.8L479.7 685.5L478.5 640.9L477.4 602.4L476.3 569.4M481.9 820.3L483.2 663.9L484.5 571.7M495 895L493.8 762.8L492.6 689.8L491.4 628.9L490.2 576.6L488.9 593L487.7 610.3L486.4 618.8L485.5 603.5L484.5 571.7M495 895L496.1 774.7L497.2 710L498.2 656L499.3 608.1L500.4 565.6M504.9 722L503.8 678.9L502.6 630.2L501.5 593.6L500.4 565.6M504.9 722L505.7 628.7L506.5 563.5M517.3 1010L516.2 808.2L515 716.3L513.9 636.4L512.8 565.2L511.6 591.7L510.5 634.7L509.4 658L507.9 609.5L506.5 563.5M517.3 1010L518 712.5L518.6 559.8M527.9 779.9L527.2 713.4L526.4 654.7L525.7 617.9L525 591.9L524.3 574L523.6 564.2L518.6 559.8M527.9 779.9L528.6 718.9L529.3 661.1L530 624.8L530.7 598.3L531.4 578.4L532.1 564.3L532.8 556.3M536 866L535.2 682.3L534.4 617L533.6 577.5L532.8 556.3M536 866L536.7 747.4L537.5 689.3L538.2 652.8L539 625.2L539.7 603.1L540.5 585.1L541.2 570.7L542 559.7L542.7 552.5M546.5 770.9L545.7 687L545 626.9L544.2 589.7L543.5 565.3L542.7 552.5M546.5 770.9L547.2 690L548 630.9L548.8 593.8L549.6 567.3L550.4 549L551.2 538.8M555.8 849L555 699.8L554.3 638.7L553.5 599.6L552.7 571.2L551.9 551L551.2 538.8M555.8 849L556.5 697.6L557.3 636.5L558 597.4L558.8 568.9L559.5 548.6L560.3 536.4M567 894L566.3 737.1L565.5 678.3L564.8 641L564 612.7L563.3 589.9L562.5 571.1L561.8 556L561 544.3L560.3 536.4M567 894L567.7 731L568.4 672.6L569.1 635.8L569.8 607.8L570.6 585.1L571.3 566L572 550L572.7 536.9L573.4 526.7L574.1 519.4M578.3 732.7L577.5 653.3L576.6 593.3L575.8 556.3L575 532.1L574.1 519.4M578.3 732.7L579 706.4L579.7 650.4L580.4 615.9L581.1 590.3L581.8 569.9L582.5 553.2L583.2 539.6L584 528.9L584.7 521L585.4 516.1M591 842L590.3 703L589.6 643.9L588.9 606.4L588.2 578.1L587.5 555.7L586.8 538L586.1 524.7L585.4 516.1M591 842L591.7 732.1L592.4 675.6L593.2 640.9L593.9 615.1L594.6 594.1L595.3 576.2L596 560.7L596.7 547.1L597.5 535.1L598.2 524.6L598.9 515.5L599.6 507.9L600.3 501.8L601 497.3M608.6 754.7L607.9 693.1L607.1 636.5L606.4 601.4L605.6 575.2L604.8 554.2L604.1 536.9L603.3 522.6L602.6 511.3L601.8 502.8L601 497.3M608.6 754.7L609.4 703.5L610.1 647.5L610.8 613.1L611.5 587.6L612.3 567L613 549.7L613.7 535L614.5 522.5L615.2 512L615.9 503.4L616.6 496.9L617.4 492.5M623.6 814L622.8 678.8L622 619.8L621.3 582.4L620.5 554.2L619.7 531.8L618.9 514.2L618.2 501L617.4 492.5M623.6 814L624.3 712.8L625 656.6L625.8 622.5L626.5 597.2L627.2 576.7L627.9 559.3L628.7 544L629.4 530.6L630.1 518.5L630.8 507.8L631.5 498.1L632.3 489.7L633 482.3L633.7 476L634.4 470.9L635.1 467M644.6 808L643.9 695.3L643.1 638.6L642.4 603.6L641.7 577.5L641 556.2L640.2 538.2L639.5 522.6L638.8 509L638.1 497.2L637.3 487.1L636.6 478.6L635.9 471.9L635.1 467M644.6 808L645.5 557.2L646.4 487.4L647.3 452.8L650.5 560L651.1 560L651.8 533.9L652.4 497.1L653 472.7L653.7 458L654.3 452.9L654.9 456.7L655.5 467.6L656.1 485.4L656.7 511L657.3 520L657.9 520L658.5 520L659.1 520L659.7 520L660.3 488.5L660.9 462.9L661.5 445.1L662.1 434.2L662.7 430.4M678 560L677.3 557.8L676.7 543.9L676.1 531.8L675.5 521L674.9 511.4L674.3 502.7L673.7 494.8L673.1 487.5L672.5 480.8L671.9 474.6L671.2 468.9L670.6 463.6L670 458.7L669.4 454.3L668.8 450.2L668.2 446.6L667.6 443.3L667 440.3L666.4 437.7L665.8 435.5L665.1 433.7L664.5 432.3L663.9 431.3L663.3 430.6L662.7 430.4M678 560L678.6 560L679.2 560L679.8 560L680.4 560L681 560L681.6 560L682.2 560L682.9 560L683.5 549.7L684.1 529.7L684.7 513.4L685.3 499.5L685.9 487.4L686.5 476.6L687.2 467L687.8 458.3L688.4 450.4L689 443.1L689.6 436.4L690.2 430.2L690.9 424.5L691.5 419.2L692.1 414.3L692.7 409.9L693.3 405.8L694 402.2L694.6 398.9L695.2 395.9L695.8 393.3L696.4 391.1L697 389.3L697.6 387.9L698.3 386.9L698.9 386.2L699.5 386L704.5 391.6L705.8 387.6L707.6 382.1L709.2 378.8L710.5 380.5L711.6 384.4L712.7 385.8L713.8 381.3L715 374.2L716.2 370.6L717.7 374.4L719.3 381.5L720.9 385.8L722.3 383.5L723.7 378.4L725 375.3L726 377.1L726.8 381.1L727.9 383.5L729.3 382L730.9 379L732.6 377.6L734.1 380.2L735.7 384.3L737.2 385.8L738.8 381.4L740.3 374.5L741.9 370.6L743.8 373.8L745.9 380L747.8 383.5L749.2 380.2L750.5 374.1L751.8 370.6L753.2 373.1L754.5 378.1L755.9 381.1L757.5 379L759.1 374.7L760.6 372.9L762 376.9L763.4 383.3L764.7 387L766 384.6L767.4 379.5L768.8 376.4L770.3 378.7L771.8 382.9L773.5 384.6L775.3 380.3L777.3 373.5L779.3 369.4L781.5 371.8L783.8 377L785.7 380L787.1 377.4L788.2 372.6L789.2 370.6L790.3 375L791.4 382.2L792.7 385.8L794.3 381.3L796.1 373.4L798 369.4L800.1 374.8L802.3 384.1L804.4 389.3L806.4 385.1L808.4 376.8L810.3 371.8L811.9 374.7L813.4 381L814.9 384.6L816.4 381.6L817.9 375.8L819.6 372.9L821.6 376.8L823.8 383.6L826 387L828.4 382.7L830.8 375L833 370.6L835.1 373.7L837 380L838.9 383.5L840.8 380.3L842.7 374.2L844.7 370.6L847 372.9L849.5 377.6L851.7 380L853.5 376.6L855.1 370.8L857 367.7L859.4 370.8L862.1 376.7L864.6 380L866.6 376.8L868.4 371L870.4 368.3L873.1 372.9L876 380.7L878.6 384.6L880.7 379.5L882.5 370.6L884.4 366.5L886.7 373.4L889.2 385.1L891.4 391.6L893.4 386.5L895.1 376.3L897.3 370.6L900.5 374.9L904.1 383.8L906.6 390.5L907 390.3L908.3 386.4L910.1 381L911.7 376.3L912.8 373.1L913.7 370.8L914.6 369.3L915.5 368.7L916.5 369L917.5 370.5L918.8 373.6L920.2 377.9L921.6 382.1L922.8 386.8L924 391.4L925.1 392.9L926.2 388.9L927.1 381.9L928 375.7L928.9 372L929.6 369.1L930.4 367L931.1 365.3L931.9 364.3L932.7 364L933.6 364.7L934.6 366.2L935.6 368.1L936.6 370.4L937.6 373.2L938.6 376.9L939.3 382.9L940 389.9L940.9 393.8L942.3 392.4L943.9 387.9L945.6 383.3L947.2 379.4L948.8 375.4L950.2 372.2L951.3 370.1L952.2 368.8L953.2 368.1L954.3 367.7L955.5 367.8L956.7 369.3L957.8 372.8L959 377.5L960.2 382.1L961.2 386.6L962.2 390.8L963.1 393.6L963.9 394L964.6 393L965.4 391.5L966.3 390.1L967.3 388.3L968.3 385.7L969.6 381.8L971 377.2L972.4 372.8L973.8 368.6L975.2 364.7L976.5 362.3L977.6 362.2L978.5 363.7L979.4 365.8L980.4 368.3L981.3 371.5L982.4 375.1L983.5 379.2L984.7 383.6L985.9 388L987 392.5L988 397L989 399.9L990 400.5L990.9 399.6L991.7 398.5L992.5 398L993.2 397.4L994 395.6L995.1 391.8L996.4 386.8L997.5 382.1L998.5 378.6L999.5 375.4L1000.5 371.6L1001.6 366.3L1002.7 360.4L1004 355.9L1005.3 353.5L1006.7 352.6L1008.1 352.9L1009.3 354.7L1010.4 357.7L1011.6 361.1L1012.9 364.6L1014.4 368.5L1015.7 372.8L1016.5 377.8L1017.1 383.3L1018 388.6L1019.2 393.3L1020.7 397.8L1022.1 402L1023.5 406.5L1024.9 410.7L1026.2 413.5L1027.2 413.9L1028.2 412.8L1029.1 411.4L1030.1 410.1L1031 408.5L1032 406.1L1033 402.5L1034 398.2L1034.9 393.8L1035.9 389.9L1036.9 385.9L1037.9 381.6L1038.6 376.7L1039.3 371.4L1040.2 366.4L1041.6 361.7L1043.2 357.1L1044.9 352.9L1046.4 349L1047.9 345.4L1049.5 342.4L1051.4 340.2L1053.4 338.5L1055.4 337.8M1107.8 846.6L1106.8 816.5L1105.8 775.9L1104.7 743.4L1103.7 715.4L1102.7 691.4L1095.4 695L1095.2 650L1095 620L1094.4 582L1093 550L1090.9 512L1088.7 480L1086.3 453.6L1083 425L1079.3 397.6L1075.2 375.1L1074.6 372.5L1073.6 368.7L1072.3 364.6L1070.8 360.5L1068.9 356L1067.1 351.8L1065.2 347.6L1063.2 343.7L1061.2 340.7L1059.3 338.8L1057.3 337.9L1055.4 337.8M1107.8 846.6L1108.4 838.2L1109 782L1109.6 747.3L1110.2 721.8L1110.8 702.2L1111.4 687.4L1112 676.9L1112.6 671.1M1179 826.7L1178 806.5L1176.9 769L1175.8 739.6L1174.7 714.7L1173.7 693.9L1172.5 704.4L1171.4 717.7L1170.3 733.9L1169.1 752.4L1168 761.3L1166.8 770.2L1165.7 762.3L1164.5 754.3L1163.4 739.8L1162.3 724.2L1161.1 710.9L1160 699.7L1158.8 690.5L1157.8 694.5L1156.7 700.6L1155.7 707.4L1154.7 710.2L1153.6 713L1152.6 715.8L1151.5 718.6L1150.5 715.9L1149.5 713.1L1148.4 708.9L1147.4 702.7L1146.3 742.3L1145.2 778.1L1143.9 762.4L1142.7 733.3L1141.5 707.8L1140.2 688.7L1139.1 701.3L1138 716.1L1136.8 732.9L1135.7 752L1134.6 774.6L1133.4 791.9L1132.3 803.4L1131.1 790.4L1130 769.1L1128.8 745.4L1127.7 726.1L1126.5 711L1125.5 723.4L1124.4 740L1123.3 761L1122.2 773.9L1121.1 784.2L1120 774.3L1119 762.7L1117.9 741.7L1116.8 724L1115.8 708.3L1114.7 694.3L1113.6 681.9L1112.6 671.1M1179 826.7L1180.1 810.5L1181.1 778.7L1182.1 751.7L1183.2 729.2L1184.2 710.7L1185.3 726.2L1186.3 745.8L1187.4 769.9L1188.5 792.4L1189.5 805.7L1190.6 777.9L1191.7 736.9L1192.8 705L1193.9 679.5M1198.9 817.4L1197.6 784.1L1196.4 741L1195.1 707L1193.9 679.5M1198.9 817.4L1200.1 778.5L1201.3 733.4L1202.5 697.4L1203.8 667.8M1219.9 857.1L1218.9 842L1217.8 810L1216.8 783.7L1215.7 760.9L1214.7 740.5L1213.7 722.1L1212.6 705.8L1211.5 717.6L1210.4 733.5L1209.2 753.8L1208.1 764.6L1206.9 774.2L1205.9 741.8L1204.8 698.6L1203.8 667.8M1219.9 857.1L1221.1 800.9L1222.2 747.3L1223.4 706.2M1229.3 853.6L1228.1 826.9L1226.9 787.4L1225.7 756L1224.5 729L1223.4 706.2M1229.3 853.6L1229.6 848.6L1229.9 792.4L1230.2 757.8L1230.6 732.4L1230.9 712.9L1231.2 698L1231.5 687.7L1231.9 682M1233.9 838.4L1232.9 750L1231.9 682M1233.9 838.4L1234.7 763.5L1235.5 702.8L1236.4 749.6L1237.4 798.7L1238.5 785.3L1239.5 760.2L1240.5 735.6L1241.6 714.5L1242.6 695.8L1243.7 679.1L1244.7 664.6M1258.5 888.6L1257.9 859.2L1257.3 802.5L1256.7 767.4L1256.1 741.5L1255.5 721.4L1254.9 706.1L1254.3 695.2L1253.7 688.9L1252.6 695.6L1251.4 701.2L1250.2 704.5L1249.1 707.8L1248 700.2L1246.9 692.7L1245.8 675.5L1244.7 664.6M1258.5 888.6L1259.2 847.9L1259.9 790.9L1260.6 755.5L1261.4 729.3L1262.1 709L1262.8 693.5L1263.5 682.3L1264.3 675.8L1265.4 685L1266.6 698.2L1267.7 711.3L1268.9 718.2L1270.1 725.2L1271.1 717.2L1272.2 705L1273.3 691.2L1274.6 698.9L1275.8 707.4L1277 711.7L1278.3 716.1L1279.3 711.2L1280.4 706.3L1281.4 701.4L1282.5 693L1283.5 682.3L1284.6 673.3L1285.6 665.9L1286.7 660.1M1305.9 843.1L1304.8 829.3L1303.7 802.7L1302.5 777.8L1301.4 756.3L1300.3 737.2L1299.2 720.1L1298.1 705.2L1296.9 709.6L1295.8 714.2L1294.7 716.4L1293.6 718.6L1292.4 720.7L1291.3 712.2L1290.1 703.8L1289 685.6L1287.8 670.8L1286.7 660.1M1305.9 843.1L1307 816.5L1308.1 777L1309.2 745.6L1310.3 718.6L1311.4 695.8M1315.2 879.3L1314.8 864L1314.3 807.6L1313.8 772.7L1313.3 747.1L1312.8 727.4L1312.3 712.3L1311.9 701.7L1311.4 695.8M1315.2 879.3L1315.6 867.1L1316 810.7L1316.4 775.9L1316.8 750.4L1317.2 730.7L1317.6 715.7L1318 705.2L1318.4 699.4L1319.5 702.7L1320.6 704L1321.7 705.1L1322.9 706.2L1324 716.9L1325.1 716.8L1326.2 716.7L1327.3 716.6L1328.4 716.6L1329.6 716.5L1330.7 716.4L1331.8 716.3L1332.9 715.9L1334.1 723.7L1335.4 732.2L1336.6 736.6L1337.8 741L1338.9 731.4L1340 721.5L1341.1 700.9L1342.2 684L1343.3 670.1L1344.4 658.9M1349.6 908.5L1348.9 835.8L1348.3 778.1L1347.6 742L1347 715.2L1346.4 694.2L1345.7 677.9L1345.1 666.1L1344.4 658.9M1349.6 908.5L1350.7 844.6L1351.8 787.2L1352.9 751.3L1354 724.6L1355.1 703.8L1356.2 687.8L1357.3 676.1L1358.4 669.2M1374.5 798.8L1373.4 783.8L1372.2 756.4L1371 731.5L1369.8 713.1L1368.7 722.4L1367.6 735.8L1366.4 749.5L1365.3 756.5L1364.2 763.6L1363 750.4L1361.9 728.1L1360.7 704.1L1359.5 684.6L1358.4 669.2M1374.5 798.8L1375.7 787L1376.8 767L1377.9 744.1L1379 724.5L1380.2 706.9L1381.3 691.1L1382.4 676.7L1383.5 664.1M1390.5 829.1L1389.3 803.4L1388.2 765.4L1387 735.1L1385.8 708.5L1384.7 684.9L1383.5 664.1M1390.5 829.1L1391.6 765.6L1392.8 711.1L1394.3 732.2L1395.8 743.6L1396.9 736.5L1398 729.4L1399.1 715.4L1400.2 702L1401.3 692.6M1409.9 977.4L1408.8 874.1L1407.7 815.8L1406.7 779.1L1405.6 751.5L1404.5 729.9L1403.5 713L1402.4 700.5L1401.3 692.6M1409.9 977.4L1410.6 850.7L1411.4 791.9L1412.2 754.6L1413 726.6L1413.8 704.4L1414.5 687L1415.3 674L1416.1 665.7L1417.2 676.4L1418.4 689.9L1419.5 706.4L1420.7 725.8L1421.8 735L1423 744.1L1424 737.5L1425 730.8L1426 722.8L1427 708.3L1428.1 695.7L1429.1 684.5L1430.1 674.6L1431.1 666L1432.1 658.6M1440 820.9L1438.9 803.2L1437.7 768.3L1436.6 740.9L1435.5 717L1434.4 695.5L1433.2 676L1432.1 658.6M1440 820.9L1441.1 769.4L1442.2 717.9L1443.3 678.8L1444.4 696.6L1445.4 718.6L1446.5 745L1447.5 775L1448.6 790.6L1449.7 771.1L1450.7 733.9L1451.8 704.7L1452.8 680L1453.9 659.5M1487.9 1095.8L1487.4 864.8L1486.8 803.8L1486.3 764.2L1485.8 734L1485.2 709.6L1484.7 689.9L1484.2 674.6L1483.7 664.1L1482.5 671.3L1481.4 681.3L1480.3 694.3L1479.2 701.2L1478 706.8L1476.9 712.5L1475.8 711.1L1474.7 709.7L1473.6 708.3L1472.4 706.9L1471.3 703.5L1470.2 700.5L1469.1 702.4L1468.1 703.9L1467 704.6L1466 705.3L1464.9 706L1463.9 706.6L1462.8 707.3L1461.7 703.1L1460.6 698.9L1459.5 694.8L1458.4 689.5L1457.3 679.5L1456.1 671.2L1455 664.5L1453.9 659.5M1487.9 1095.8L1488.6 874.2L1489.4 813.4L1490.1 774.1L1490.8 744L1491.6 719.8L1492.3 700.3L1493 685.3L1493.8 674.9M1512.3 805.2L1511.2 788.4L1510.1 755L1508.9 727.4L1507.8 704.4L1506.6 685.4L1505.5 692.9L1504.5 703.3L1503.4 716.6L1502.3 724.7L1501.2 730.7L1500.2 736.7L1499.1 729.5L1498 722.3L1497 709.8L1495.9 695.3L1494.8 683.6L1493.8 674.9M1512.3 805.2L1513.4 792.5L1514.4 770.3L1515.4 746.6L1516.4 726.2L1517.4 708.2L1518.4 692.3L1519.4 678.5M1587.6 806.3L1586.5 796L1585.4 782.8L1584.3 761.4L1583.3 743.4L1582.2 727.4L1581.1 713L1580 700.2L1578.9 689.1L1577.8 699L1576.7 711.8L1575.7 727.4L1574.6 744L1573.5 752.4L1572.4 760.7L1571.3 752.9L1570.2 745L1569 730.1L1567.9 714.9L1566.8 702.7L1565.6 693.3L1564.6 696.8L1563.6 702.4L1562.5 707.5L1561.5 709.8L1560.5 712.2L1559.4 714.6L1558.4 716.9L1557.4 715.8L1556.4 714.7L1555.4 713.6L1554.4 710.6L1553.3 724.3L1552.3 744.4L1551.3 759.1L1550.3 769.4L1549.2 761.8L1548.2 754.3L1547.2 741.5L1546.1 726.3L1545.1 713.4L1544.1 702.6L1543 693.9L1541.9 706.2L1540.7 725.1L1539.5 736.1L1538.3 745.1L1537.3 741.4L1536.2 737.7L1535.2 734.1L1534.1 730.4L1533.1 723L1532.1 714.8L1531 707.9L1530 702.2L1528.9 697.8L1527.8 714L1526.8 734.3L1525.7 759L1524.6 783.6L1523.5 797.5L1522.5 773.1L1521.4 733.4L1520.4 702.7L1519.4 678.5M1587.6 806.3L1588.9 774.5L1590.1 731.5L1591.4 701L1592.4 708.4L1593.5 719.9L1594.5 727.6L1595.5 732.8L1596.6 737.9L1597.7 727.6L1598.8 714.4L1599.9 693.2L1601 676.6L1602.1 664M1607.6 838.4L1606.9 831L1606.2 774.8L1605.6 740.1L1604.9 714.6L1604.2 695.1L1603.5 680.2L1602.8 669.8L1602.1 664M1607.6 838.4L1609.1 747.6L1610.6 678.3M1614.6 798.7L1613.6 773.7L1612.6 733.7L1611.6 702.7L1610.6 678.3M1614.6 798.7L1615.8 785.5L1616.9 761.3L1618 737L1619.2 716.1L1620.3 697.6L1621.5 681.1L1622.6 666.8M1646.2 889.8L1645.1 865.6L1644 809L1642.9 774L1641.8 748.1L1640.7 728.2L1639.6 713L1638.5 702.2L1637.5 696.1L1636.4 707.4L1635.4 722.7L1634.3 742.6L1633.3 751.9L1632.2 760.9L1631.4 731.5L1630.6 695.3L1629.6 701.4L1628.6 704.6L1627.4 699.3L1626.2 694L1625 685.9L1623.8 674.3L1622.6 666.8M1646.2 889.8L1647 837.3L1647.9 780.1L1648.8 744.4L1649.7 718L1650.6 697.4L1651.5 681.6L1652.3 670.2L1653.2 663.5M1664.9 896.8L1663.8 863.6L1662.7 807.7L1661.7 773.4L1660.6 747.9L1659.6 727.4L1658.5 710.4L1657.5 696.2L1656.4 684.4L1655.3 675L1654.3 668L1653.2 663.5M1664.9 896.8L1665.7 844.1L1666.6 786.9L1667.5 751.3L1668.3 724.8L1669.2 704.3L1670.1 688.4L1670.9 677.1L1671.8 670.3M1713.5 823.2L1712.4 812.4L1711.3 796.6L1710.3 774.7L1709.2 756.1L1708.2 739.5L1707.1 724.6L1706 711.2L1705 699.5L1703.8 711.1L1702.6 729.2L1701.4 738.2L1700.2 746.4L1699.1 740.5L1698 734.5L1696.9 724.2L1695.8 712L1694.7 703.8L1693.6 723.6L1692.5 749.8L1691.4 781.1L1690.3 797.5L1689.1 776.1L1687.9 737.5L1686.7 707.9L1685.5 684.8L1684.5 689.2L1683.4 695.6L1682.3 704L1681.2 707.2L1680.2 710.4L1679.1 713.6L1678 716.8L1677 711.4L1675.9 705.9L1674.9 699.8L1673.9 687.1L1672.8 677.3L1671.8 670.3M1713.5 823.2L1714.6 791.8L1715.7 750.8L1716.8 717.8L1717.9 689.4L1719 665M1745.5 822.1L1744.4 807.5L1743.4 779.6L1742.4 753.9L1741.4 732L1740.4 713L1739.3 696.9L1738.3 704.2L1737.2 712.7L1736.1 722.1L1735.1 732.6L1734 744.1L1732.9 757L1731.9 771.7L1730.8 780.4L1729.7 787.2L1728.6 794L1727.6 784L1726.5 770.6L1725.4 749.5L1724.4 731.6L1723.3 715.6L1722.2 701.1L1721.2 687.8L1720.1 675.8L1719 665M1745.5 822.1L1746.5 761.5L1747.5 706L1748.5 663M1764.9 806.9L1763.8 786.3L1762.7 748L1761.6 718.7L1760.5 695.9L1759.4 700.6L1758.3 707.5L1757.2 716.4L1756.1 721L1755 724.6L1753.9 728.2L1752.8 731.8L1751.7 719.7L1750.6 700.3L1749.6 678.4L1748.5 663M1764.9 806.9L1765.9 795.8L1767 777.3L1768.1 755.2L1769.2 736.2L1770.3 719.2L1771.3 703.6L1772.4 689.3L1773.5 676.2L1774.6 664.4M1793.2 800L1792.1 782.9L1791 748.1L1789.8 720.1L1788.7 696.7L1787.6 677.3L1786.5 686.2L1785.5 698.1L1784.4 712.8L1783.3 726.1L1782.2 733.5L1781.1 740.9L1780 732L1779 723.1L1777.9 704.4L1776.8 688.2L1775.7 674.9L1774.6 664.4M1793.2 800L1794.4 758.2L1795.7 710.9L1797 676L1798 685.6L1799 699.2L1800.1 713.8L1801.1 721.2L1802.1 728.5L1803.2 724L1804.2 719.5L1805.3 715L1806.3 708.2L1807.3 698L1808.4 689.4L1809.4 682.3L1810.4 676.9L1811.5 685.7L1812.5 696.6L1813.5 709.6L1814.6 724.9L1815.6 738.1L1816.6 745.7L1817.7 753.4L1818.8 730.1L1819.9 690.9L1821 664.2M1837.8 785.8L1836.7 773.1L1835.7 752.4L1834.7 728.8L1833.6 709.8L1832.6 694.9L1831.5 700L1830.4 707.2L1829.3 716.5L1828.2 722.7L1827.1 726.7L1826 730.6L1824.9 734.6L1823.6 718.2L1822.3 686.6L1821 664.2M1837.8 785.8L1838.8 778.6L1839.8 771.3L1840.8 760.1L1841.8 744.9L1842.8 731.6L1843.9 719.6L1844.9 708.7L1845.9 698.7L1846.9 689.8L1847.9 682L1848.9 690.2L1849.9 700.6L1851 713L1852 727.8L1853 738.7L1854 745.8L1855 752.9L1856 741.4L1857.1 723.3L1858.1 702L1859.1 687L1860.5 722.8L1861.8 751.3L1862.9 744.2L1863.9 737.1L1864.9 725L1865.9 710.6L1866.9 699L1867.9 690.4L1869 703.3L1870.1 720.4L1871.2 741.9L1872.3 756.3L1873.4 767.1L1874.4 760.3L1875.4 753.5L1876.4 744.8L1877.4 730.1L1878.4 717.4L1879.4 706.1L1880.4 696L1881.4 687.2L1882.4 679.7L1883.6 687.4L1884.7 697.9L1885.8 711.2L1886.9 719.7L1888.1 725.8L1889.2 731.9L1890.2 723.3L1891.2 714.7L1892.2 697.1L1893.2 681.2L1894.2 668.2L1895.2 658M1905.1 790.1L1904 779.8L1902.9 765.3L1901.8 743.9L1900.7 725.8L1899.6 709.6L1898.5 694.8L1897.4 681.2L1896.3 669L1895.2 658M1905.1 790.1L1906.4 717.7L1907.7 658.4M1926.6 802.5L1925.5 786L1924.3 753.6L1923.1 726.3L1922 703.5L1920.8 684.9L1919.7 691.2L1918.7 698.8L1917.7 707.7L1916.6 717.9L1915.6 729.5L1914.5 740.4L1913.5 746L1912.4 751.7L1911.4 757.3L1910.2 728.8L1908.9 687.4L1907.7 658.4M1926.6 802.5L1927.6 792.3L1928.7 776.3L1929.7 755L1930.7 736.9L1931.7 720.5L1932.7 705.5L1933.7 691.6L1934.7 678.7L1935.7 666.8L1936.7 656M1954.6 852.4L1953.5 827.7L1952.4 788.8L1951.4 757.9L1950.3 731.6L1949.2 709.4L1948.2 714.1L1947.2 719.7L1946.1 722.1L1945.1 724.6L1944.1 727.1L1943 720L1942 712.9L1940.9 701.9L1939.9 687.1L1938.8 674.7L1937.8 664.3L1936.7 656M1954.6 852.4L1955.6 848.2L1956.6 792.1L1957.6 757.4L1958.7 732.1L1959.7 712.6L1960.7 697.8L1961.7 687.4L1962.7 681.7M1969.8 858.5L1968.9 849L1968 792.7L1967.2 758L1966.3 732.5L1965.4 712.9L1964.5 698L1963.6 687.5L1962.7 681.7M1969.8 858.5L1970.3 831.9L1970.9 775.2L1971.4 740.1L1971.9 714.3L1972.4 694.3L1972.9 679L1973.4 668.2L1974 662M1990.8 792.6L1989.8 779.9L1988.7 757.6L1987.6 733.8L1986.5 713.4L1985.4 695.4L1984.3 679.4L1983.3 665.5L1982 678.1L1980.8 697.2L1979.5 708.9L1978.3 718.1L1977.2 708.3L1976.1 694.9L1975 675.2L1974 662M1990.8 792.6L1991.9 782.7L1992.9 770.9L1994 749.9L1995 732.1L1996 716.4L1997.1 702.4L1998.1 689.9L1999.1 679.1L2000.2 683.9L2001.3 690.1L2002.4 697.4L2003.4 706L2004.5 715.5L2005.6 719.6L2006.6 723.7L2007.7 727.8L2008.8 731.9L2009.9 722.6L2011.1 712.5L2012.2 692.3L2013.4 676.7L2014.6 665.1M2018.2 955.2L2017.7 847.3L2017.3 788.9L2016.8 752L2016.4 724.4L2015.9 702.7L2015.5 685.6L2015 673.1L2014.6 665.1M2018.2 955.2L2019.1 853.8L2020.1 795.6L2021.1 758.9L2022.1 731.4L2023 709.8L2024 692.9L2025 680.4L2025.9 672.6M2036.4 855.7L2035.4 853L2034.3 802.9L2033.3 768.9L2032.2 743.8L2031.2 723.9L2030.1 707.7L2029.1 694.6L2028 684.4L2027 677L2025.9 672.6M2036.4 855.7L2036.9 841.3L2037.3 784.9L2037.8 750L2038.2 724.4L2038.7 704.7L2039.1 689.7L2039.6 679.1L2040 673.2M2045.5 822.1L2044.4 794.8L2043.3 755L2042.2 723.4L2041.1 696.3L2040 673.2M2045.5 822.1L2046.5 799.9L2047.6 761.8L2048.6 731.8L2049.6 706.3L2050.7 684.9M2102 1431.3L2101.4 951.1L2100.9 884.7L2100.3 839.8L2099.7 804.2L2099.1 774.4L2098.6 749.3L2098 728.7L2097.4 712.7L2096.3 719.6L2095.2 725.7L2094.1 729.2L2093 732.7L2092 727.6L2091 722.5L2089.9 715.1L2088.9 703.7L2087.9 696.4L2086.8 700.1L2085.8 706.2L2084.7 708.3L2083.7 710.4L2082.6 712.5L2081.5 714.7L2080.4 714.2L2079.4 713.7L2078.3 713.3L2077.2 712.8L2076.1 712.3L2075 710.7L2073.9 720.5L2072.7 734.4L2071.6 749.9L2070.5 757.5L2069.4 765.1L2068.3 759.8L2067.3 754.4L2066.2 749L2065.1 737.3L2064.1 726.6L2063 718L2061.9 711.5L2060.9 721.8L2059.8 737.2L2058.8 744.1L2057.8 751L2056.7 744.4L2055.7 737.8L2054.7 728.8L2053.7 714.5L2052.7 702.6L2051.7 692.7L2050.7 684.9M2102 1431.3L2102.5 936.7L2102.9 870L2103.4 824.8L2103.8 788.8L2104.3 758.7L2104.7 733.3L2105.2 712.4L2105.6 696.1M2111.4 887.9L2110.7 865.4L2110 808.8L2109.2 773.8L2108.5 748L2107.8 728.1L2107.1 712.9L2106.3 702.2L2105.6 696.1M2111.4 887.9L2112.2 865.7L2113.1 809.1L2113.9 774.1L2114.8 748.4L2115.6 728.5L2116.5 713.3L2117.3 702.6L2118.1 696.5M2126.8 840.3L2125.7 827.7L2124.7 804.1L2123.6 780.5L2122.5 760.1L2121.4 741.7L2120.3 725L2119.2 709.9L2118.1 696.5M2126.8 840.3L2127.9 832.8L2128.9 776.6L2130 741.9L2131 716.4L2132.1 696.8L2133.1 682L2134.2 671.6L2135.2 665.8L2136.3 675.6L2137.4 688.2L2138.4 703.7L2139.5 719.9L2140.5 728.1L2141.6 736.4L2142.6 725.3L2143.6 709.9L2144.7 688.1L2145.7 670.7L2146.7 657.5M2178.7 831.9L2177.6 808.2L2176.5 768.8L2175.4 738.4L2174.2 714.4L2172.9 739.9L2171.6 777.8L2170.3 798.2L2169.2 787.5L2168.2 770.9L2167.1 749.2L2166.1 730.6L2165 713.9L2164 698.7L2162.9 684.8L2161.9 672.1L2160.8 660.7L2159.7 673.5L2158.6 689.1L2157.4 707.7L2156.3 729.9L2155.2 745.8L2154 757L2153 747.1L2151.9 735.8L2150.9 714.7L2149.8 697.1L2148.8 681.8L2147.7 668.6L2146.7 657.5M2178.7 831.9L2179.9 789.4L2181.2 743L2182.4 705.6L2183.7 674.7L2184.8 685.9L2186 701.2L2187.2 721L2188.4 730L2189.5 739L2190.7 731.6L2191.8 724.1L2193 709.3L2194.1 695.6L2195.3 686" stroke="#ff0000" stroke-width="4.3" stroke-dasharray="26.5 15"/>
<path d="M242 1109.1L242.9 1153.2L243.8 1281L244.5 1113.4L245.2 1069.2L246 1089.1L246.7 1150.2L247.4 1216.3L248.1 1129.6L248.7 1068.4L249.4 1048.6L250.1 1068.4L250.8 1129.6L251.5 1362.9L252.4 1123.4L253.2 1079.2L254 1123.4L254.9 1189.5L255.5 1138.6L256.1 1077.5L256.7 1057.6L257.5 1101.8L258.3 1236.3L258.9 1112.2L259.6 1051.1L260.2 1031.2L260.8 1075.4L261.4 1380.7L262.1 1138.8L262.7 1075.7L263.4 1042.9L264 1031.5L264.8 1051.4L265.6 1110L266.4 1110L267 1084.8L267.6 1023.6L268.2 1003.8L269 1047.9L269.8 1251.7L270.7 1035.8L271.5 991.7L272.1 1035.8L272.6 1164.2L273.5 1061.8L274.3 1017.7L274.9 1029L275.6 1061.8L276.2 1124.9L276.8 1191.9L277.6 1064.6L278.4 1003.4L279.1 983.6L279.8 1027.7L280.5 1223.3L281.1 1011.3L281.7 967.2L282.4 1011.3L283.1 1236L283.9 1057L284.6 995.8L285.4 975.9L286.1 987.3L286.8 1020.1L287.6 1083.2L288.3 1256.8L288.9 982.6L289.5 938.4L290.4 982.6L291.3 1025L291.9 973.7L292.5 929.6L293.2 973.7L293.9 1049.8L294.6 1049.8L295.3 991.1L296 958.3L296.8 946.9L297.4 958.3L298 991.1L298.6 1054.1L299.2 1083L300 962.9L300.7 918.8L301.3 962.9L301.8 1205.9L302.6 953.2L303.4 909.1L304.1 928.9L304.7 990.1L305.4 1126.6L306 956.8L306.7 912.6L307.4 923.9L308 956.8L308.6 980L309.2 980L309.9 967.6L310.5 906.4L311.1 886.6L315.7 660L316.8 716.3L317.8 772.6L318.7 721.4L319.6 670.1L320.7 733.8L321.8 797.6L322.9 750.5L324 703.5L325.1 656.4L326.6 876.5L328 1096.6L329 886L330 675.4L330.9 730.4L331.8 785.4L332.8 726.6L333.7 667.9L334.4 853L335 1038L336.1 849.2L337.2 660.4L338.4 720L339.6 779.7L340.9 839.4L341.4 743.9L341.9 648.4L342.7 729.6L343.5 810.8L344.7 735.2L345.8 659.6L346.9 777.6L347.9 895.6L349 1013.6L350.1 896.9L351.2 780.2L352.3 663.4L353.5 735.6L354.7 807.8L355.4 736.2L356.1 664.7L357.1 687.8L358 711L359 684.6L360 658.2L361 850L362 1041.7L362.9 848.6L363.9 655.5L365.1 724L366.3 792.6L367.3 727.8L368.2 663.1L369.3 723.2L370.4 783.2L371.7 718.5L372.9 653.8L374.1 729.2L375.4 804.6L376.4 729.2L377.4 653.9L378.4 691.3L379.5 728.7L380.6 694.4L381.8 660.2L382.7 770.5L383.7 880.9L384.9 765.4L386.2 649.8L387.1 673.4L388 696.9L388.9 681.4L389.8 665.9L390.4 732.4L391 798.8L392.3 751.7L393.6 704.6L394.9 657.5L395.9 782.3L397 907L397.6 783.8L398.2 660.6L399.2 684L400.2 707.3L401.7 671L403.1 634.7L404.1 706.5L405.1 778.3L406.2 733.1L407.3 688L408.5 642.8L409.5 677.3L410.6 711.8L411.6 746.3L412.6 780.8L413.5 715.5L414.4 650.2L415 785.6L415.7 921L417 778.9L418.2 636.7L419.3 746.4L420.4 856L421.5 965.7L422.4 799.3L423.2 633L424.5 699.6L425.8 766.2L427.2 711.7L428.6 657.1L429.5 711.6L430.5 766.2L431.6 708.4L432.6 650.5L433.7 714.2L434.7 777.9L435.7 841.6L437.1 736.2L438.5 630.9L439.3 693.8L440.1 756.7L441.2 696.4L442.3 636.1L443.4 737.2L444.4 838.3L445.7 742.3L447 646.3L447.7 808.9L448.4 971.6L449.1 798.1L449.8 624.6L451 669.9L452.3 715.3L453.6 687.5L454.9 659.8L456.2 632L457.5 713L458.8 794.1L460.1 715.1L461.4 636.1L462.6 705.4L463.9 774.8L465 728.9L466 683L467.1 637L468.3 694.9L469.5 752.8L470.6 680L471.7 607.1L473.1 721.9L474.4 836.6L475.5 720.5L476.5 604.4L477.4 710.9L478.2 817.5L479.5 721.8L480.9 626.1L482.1 788.4L483.4 950.6L484.6 783.1L485.8 615.5L487.1 717.5L488.4 819.5L488.9 709.8L489.3 600.2L489.9 711.7L490.5 823.1L491.7 754.9L492.9 686.7L494.1 618.5L495.2 689L496.2 759.4L497.2 829.8L498.3 749.8L499.4 669.8L500.5 589.8L501.4 645.7L502.3 701.5L503.1 651.9L504 602.2L504.5 763L505 923.7L506.1 760.6L507.2 597.4L508.5 633L509.8 668.5L510.9 631.2L511.9 593.9L512.9 705.6L513.8 817.3L514.4 712.7L515 608.1L515.8 658.6L516.7 709.1L518.2 653.8L519.7 598.5L520.8 855.7L522 1113L522.8 860.5L523.7 608L524.3 641L525 674L525.9 637.9L526.9 601.8L528.3 626.1L529.8 650.5L530.8 633.9L531.9 617.4L532.9 600.9L534 584.3L535.4 693.8L536.8 803.3L537.5 694.6L538.2 586L538.8 732.5L539.5 879L540.5 731.4L541.5 583.8L543 678.8L544.5 773.8L545.7 685.2L546.9 596.5L548 640.9L549.2 685.2L550.4 729.6L551.3 657.4L552.1 585.3L553.4 670.1L554.6 755L556 667L557.3 579.1L560.5 571.4L560.7 694.1L561 974L561.9 773.1L562.8 690.7L563.7 623.4L564.6 566.8L565.7 649.3L566.7 808.4L567.6 691.6L568.6 621.7L569.5 572.4L570.3 639.5L571.2 727.3L572 915.5L573 722.3L574.1 633.3L575.1 565L576 586.8L577 619.4L577.9 667.1L578.8 694.3L579.8 619.5L580.8 565.1L581.9 613.5L582.9 682.6L583.9 796L584.7 718.9L585.5 663.9L586.3 622.4L587.1 588.5L587.9 561.3L588.9 580.2L589.9 606.2L590.9 615.2L591.8 608.9L592.7 599.5L593.6 576.8L594.6 564.8L595.4 592.9L596.3 641.8L597.2 674.2L598.1 656.7L599 610.9L599.9 580.3L600.7 560.4L601.6 606.9L602.5 658.1L603.4 714.2L604.2 776.5L605.1 851.8L606 1087.2L606.9 801.8L607.8 702.5L608.8 618.3L609.7 544.9L610.5 586.6L611.3 639.2L612.2 706.8L613 833.7L613.9 738.9L614.8 683.7L615.8 641.5L616.7 605.5L617.6 574.3L618.5 547.9L619.5 578.4L620.4 613.7L621.3 653.7L622.2 700.1L623.1 759.3L624 882.8L624.9 731.7L625.9 664.4L626.8 610.5L627.8 564.2L628.7 524.8L629.6 563L630.5 606L631.4 653.9L632.3 708L633.2 775L634.1 952.9L635 800.2L635.8 744.8L636.7 702.1L637.5 664.7L638.4 630.5L639.2 598.7L640.1 569L640.9 541.4L641.8 515.9L642.7 525.6L643.6 542L644.4 563.7L645.3 569.6L646.2 575.6L647 566L647.8 537.4L648.6 517.8L649.6 546.2L650.6 585.3L651.5 639.5L652.5 699.3L653.3 661.5L654.2 615.7L655 582.6L655.8 555.2L656.6 531.8L657.4 511.7L658.3 495.3L665.5 600L666.1 600L666.7 570.6L667.3 533.7L668 507.6L668.6 488.4L669.2 474.7L669.8 466.3L670.4 463.4L671 465.7L671.6 472.4L672.3 483.2L672.9 498.3L673.5 518.2L674.1 544.4L674.8 560L675.4 560L676 560L676.6 560L677.2 560L677.8 528.3L678.4 507.3L679 500L679.6 501L680.3 503.8L680.9 508.4L681.5 514.7L682.2 522.7L682.8 532.5L683.5 544.2L684.1 558.1L684.7 574.7L685.4 595.1L686 621.2L686.6 657.6L687.3 719.7L687.9 850L688.5 654.7L689.1 592.5L689.7 556.2L690.3 530.2L690.9 509.9L691.5 493.3L692.1 479.2L692.7 467.2L693.3 456.8L693.9 448L694.5 440.5L695.1 434.3L695.7 429.5L696.3 425.9L696.9 423.7L697.5 423L699 418L701 412L703 406L705 403.9L707.1 416.3L709.9 404L712.7 416.4L715.1 404.8L717 414.7L719.6 405.5L721.5 416.8L723.9 405L726.2 415.3L728.4 406.6L730.5 418L732.9 403.1L735.7 414.8L738.4 404.1L741.2 417.9L743.5 405.3L746.4 415.8L748.6 403.9L751.3 416.2L753.5 405.2L756.1 417L758.6 402.8L760.5 415.5L762.5 405.7L765.5 415.9L767.8 402.5L770.2 418.1L772.9 405.9L775.4 415.7L777.8 404L780.1 415.6L782.7 404L785.4 416.9L787.5 402.9L789.7 417.3L791.9 402L794.4 416L796.6 402L799.3 418.6L802.1 403.6L804.8 418.4L807.3 403.1L810.1 417.9L812.7 403.5L815.3 416.2L817.7 403.5L820.2 418.8L822.7 403.3L824.9 416.6L827.8 401.2L830.5 415.6L833.2 402.3L836.2 418.9L839.1 401.7L841.9 416.4L844.5 401.9L847.1 417L849.5 402.4L852.3 418.3L855.4 402.6L857.7 418.8L860.1 404.1L862.4 418.2L865.3 404.3L868 418.1L870.9 403.6L874 419.7L876.3 404.4L879.4 418.8L882.3 403.8L885.4 420.1L887.7 400.7L890.3 419.2L892.8 403.4L895.8 419.1L898.8 401.2L902 418.6L904.4 401.8L907.5 420.1L910.4 403.5L913.1 421.6L916.3 402.2L919.3 421.2L922.2 400.4L925.1 419.6L928.3 400.5L930.6 418.5L933.1 401L935.6 419.1L938.5 399.9L941.3 419.2L943.6 401.8L946.4 420.8L949.6 399.1L952.7 419.5L956.1 395.6L957 401.4L958.3 409.5L959.6 416L960.7 420.1L961.9 422.5L963.1 421.9L964.4 415.5L965.9 406.1L967.2 400.3L968.2 401.1L969.1 405.5L970.1 410.2L971.2 415.2L972.4 420.6L973.6 423L974.8 420.2L975.9 414.4L977.1 409L978.3 404.4L979.4 400.3L980.6 399.1L981.8 403L982.9 409.9L984.1 416L985.3 421L986.4 425.2L987.6 426L989 420.9L990.4 412.5L991.7 405.5L992.9 401.5L994 399L995.2 398.5L996.5 400.9L997.9 405.4L999.3 410.2L1000.7 416.1L1002.1 422.2L1003.4 424.4L1004.6 419.6L1005.8 410.7L1006.9 403.2L1007.8 398.3L1008.7 394.8L1009.8 393.2L1011.5 394.4L1013.4 397.6L1015.1 402L1016.2 408.1L1017.1 415.5L1018 421.9L1018.9 427.1L1019.9 431.4L1020.9 432.6L1022.2 429.2L1023.6 422.8L1025 416L1026.2 409.3L1027.3 402.1L1028.5 396.2L1030 391.2L1031.5 387.4L1033.2 386.8L1035 391.2L1036.8 398.9L1038.4 406.7L1039.7 413.6L1040.8 420.7L1041.9 427.7L1043.2 435.9L1044.6 444L1046 448.7L1047.6 448.1L1049.3 444L1050.7 438.8L1051.7 432.8L1052.3 425.5L1053 418.4L1053.8 411.4L1054.6 404.4L1055.4 398.5L1056.3 394.3L1057.3 391.1L1058.3 388L1059.4 384.6L1060.5 381.2L1061.8 378.1L1063.4 374.5L1065.2 371.1L1067.1 369.5L1069 370.7L1071.1 373.7L1072.9 376.9L1074.3 380L1075.4 383.5L1076.4 386.8L1077.3 389.8L1078 392.7L1078.7 396.2L1079.5 400.4L1080.3 405.1L1081.1 410.2L1081.9 416.4L1082.8 423L1083.4 427.7L1086.3 453.6L1088.7 480L1090.9 512L1093 550L1094.4 582L1095 620L1095.2 650L1095.4 695L1098.6 734.8L1099.4 787.4L1100.2 840L1101.5 804.7L1102.8 769.5L1104.1 734.2L1105.3 781L1106.5 827.8L1107.7 874.6L1108.9 921.4L1109.9 880.8L1110.9 840.3L1111.9 799.7L1113 759.2L1114 718.6L1115 765.6L1116.1 812.5L1117.1 859.4L1118.4 804.9L1119.6 750.4L1120.9 695.8L1122 721.6L1123.1 747.4L1124.1 735.4L1125.1 723.5L1126.1 711.5L1127.2 699.6L1128.6 805.8L1130 912L1131.1 813.2L1132.1 714.4L1133.4 840.7L1134.6 966.9L1135.9 882.9L1137.2 798.9L1138.5 714.9L1139.6 745.2L1140.7 775.5L1141.7 805.8L1142.8 836.1L1143.9 787.2L1145 738.2L1146 689.3L1147.1 720.4L1148.2 751.5L1149.2 782.6L1150.3 813.7L1151.3 844.8L1152.4 816L1153.4 787.3L1154.4 758.6L1155.4 729.9L1156.4 701.1L1157.7 746.1L1159 791.1L1160.3 836.1L1161.3 780.6L1162.2 725.2L1163.4 754.1L1164.6 782.9L1165.9 760.6L1167.2 738.3L1168.5 716L1169.9 726.4L1171.3 736.8L1172.4 731.6L1173.5 726.4L1174.6 721.2L1175.7 716L1176.8 710.8L1177.9 705.6L1179 730.3L1180.1 754.9L1181.2 779.6L1182.4 804.2L1183.9 763L1185.3 721.7L1186.3 833.8L1187.2 945.9L1188.3 910.2L1189.3 874.5L1190.4 838.7L1191.4 803L1192.5 767.3L1193.5 731.6L1194.6 794.8L1195.6 858L1196.7 921.2L1197.7 984.4L1198.8 935.1L1199.8 885.8L1200.9 836.4L1201.9 787.1L1202.9 737.8L1204 806.1L1205 874.5L1206 942.9L1207.1 1011.3L1208.1 951.3L1209.1 891.3L1210.1 831.3L1211.1 771.2L1212.2 711.2L1213.4 860L1214.7 1008.9L1215.9 1157.7L1217 1008L1218.1 858.3L1219.2 708.6L1220.2 736.4L1221.3 764.2L1222.3 791.9L1223.3 819.7L1224.4 847.5L1225.4 807.4L1226.4 767.4L1227.5 727.3L1228.5 687.3L1229.7 792.6L1230.9 897.8L1232.1 1003.1L1233.2 905L1234.4 806.9L1235.5 708.8L1236.5 801.1L1237.6 893.4L1238.6 985.6L1239.6 911.6L1240.6 837.7L1241.6 763.7L1242.6 689.7L1243.7 743.8L1244.7 797.9L1245.7 852.1L1246.8 906.2L1248.2 814.2L1249.6 722.3L1250.8 865.6L1251.9 1009L1253.1 1152.3L1254.3 1295.6L1255.4 995.1L1256.6 694.6L1257.6 776.1L1258.6 857.5L1259.6 938.9L1260.7 876.5L1261.8 814L1262.8 751.6L1263.9 689.2L1265.3 759.7L1266.6 830.2L1267.7 810.6L1268.7 791L1269.8 771.3L1270.8 751.7L1271.9 732.1L1272.9 748.4L1273.9 764.8L1275 781.2L1276 797.5L1277.1 782.6L1278.2 767.7L1279.3 752.8L1280.4 737.8L1281.5 722.9L1282.6 750.1L1283.7 777.3L1284.9 804.5L1285.6 757.5L1286.4 710.5L1287.8 781.8L1289.1 853.1L1290.2 824.3L1291.3 795.5L1292.5 766.6L1293.6 737.8L1294.7 709L1295.8 742L1297 775L1298.2 808L1299.2 791.9L1300.2 775.9L1301.2 759.8L1302.2 743.7L1303.2 727.6L1304.4 756.1L1305.6 784.5L1306.8 813L1308 841.5L1309.3 796.4L1310.5 751.3L1311.7 706.2L1312.8 802.8L1313.9 899.5L1315 996.1L1316.1 925.1L1317.1 854.1L1318.2 783L1319.3 712L1320.6 736.3L1321.8 760.5L1323.1 784.8L1323.5 737.3L1323.9 689.9L1324.4 774.8L1324.9 859.7L1326.2 820.4L1327.5 781L1328.7 741.7L1329.8 780L1330.8 818.3L1331.9 856.5L1332.9 894.8L1333.9 933L1335 876.2L1336.1 819.3L1337.1 762.4L1338.2 705.5L1339.3 750.5L1340.4 795.6L1341.5 840.6L1342.6 885.7L1343.7 930.7L1344.7 882.9L1345.7 835.1L1346.7 787.3L1347.7 739.5L1348.7 691.8L1350.1 758L1351.5 824.2L1352.6 785.2L1353.6 746.1L1354.7 707.1L1355.7 723.6L1356.8 740L1357.8 756.5L1358.9 773L1360.3 740.8L1361.8 708.7L1362.8 750.8L1363.8 792.8L1364.8 834.9L1365.8 799.8L1366.8 764.7L1367.8 729.5L1368.8 694.4L1369.9 744L1370.9 793.6L1372 843.2L1373.1 892.8L1374.1 942.4L1375.1 880.7L1376.1 818.9L1377.1 757.2L1378.1 695.5L1379.4 727.6L1380.6 759.7L1381.9 791.8L1382.6 760.2L1383.4 728.5L1384.8 763.2L1386.2 797.9L1387.5 775L1388.7 752.1L1389.9 729.1L1391.1 706.2L1392.3 790.8L1393.5 875.3L1394.7 959.9L1395.9 893.7L1397.1 827.4L1398.2 761.2L1399.4 694.9L1400.9 734.1L1402.4 773.4L1403.6 763.5L1404.8 753.7L1406 743.8L1407.2 734L1408.4 724.2L1409.6 765.7L1410.8 807.2L1412 848.7L1413.2 795.4L1414.4 742.1L1415.6 688.8L1417 762.4L1418.5 836.1L1419.7 800.9L1420.9 765.8L1422.1 730.6L1423.3 695.5L1424.5 709.9L1425.7 724.3L1426.9 738.8L1428.1 731.5L1429.4 724.1L1430.7 716.8L1431.9 749.3L1433.1 781.7L1434.3 814.2L1435.7 758.4L1437.1 702.5L1438.3 749.1L1439.5 795.6L1440.7 842.1L1441.9 888.6L1443 856.6L1444 824.6L1445.1 792.6L1446.2 760.5L1447.3 728.5L1448.4 743.5L1449.5 758.5L1450.5 773.6L1451.3 757.1L1452.1 740.7L1453.1 761.5L1454 782.3L1455.1 762.4L1456.1 742.5L1457.2 722.5L1458.2 745.7L1459.3 768.9L1460.3 792.1L1461.4 815.2L1462.4 838.4L1463.6 785.9L1464.7 733.5L1465.5 783L1466.3 832.6L1467.4 806.3L1468.4 780L1469.5 753.7L1470.6 727.4L1471.7 794.4L1472.9 861.4L1474.1 928.4L1474.9 829.1L1475.7 729.8L1476.7 767.9L1477.8 806L1478.8 791.3L1479.8 776.7L1480.8 762.1L1481.8 747.4L1482.9 732.8L1483.9 718.1L1485.1 723.6L1486.3 729L1487.6 734.5L1488.8 739.9L1489.8 731.8L1490.7 723.6L1492 814.9L1493.3 906.2L1494.3 810.1L1495.3 714.1L1496.4 762.4L1497.5 810.7L1498.7 859L1499.7 828.2L1500.7 797.4L1501.7 766.6L1502.8 735.8L1503.8 705L1504.8 765.5L1505.9 826L1506.9 886.5L1508 947.1L1509.2 818.1L1510.3 689.1L1511.3 760.2L1512.4 831.2L1513.9 772.3L1515.3 713.5L1516.6 760.2L1517.8 806.9L1519 853.6L1520 784.8L1521.1 716.1L1521.8 755L1522.5 793.8L1523.8 764.9L1525.1 735.9L1526.5 706.9L1527.6 736.6L1528.8 766.4L1529.9 756.8L1531 747.3L1532.1 737.7L1533.2 728.1L1534.3 718.6L1535.4 756.2L1536.5 793.8L1537.7 831.4L1538.7 804.4L1539.7 777.3L1540.7 750.3L1541.7 723.3L1542.8 696.2L1543.8 745.2L1544.9 794.2L1545.9 843.2L1547 892.2L1548 941.2L1549.2 871L1550.4 800.8L1551.6 730.5L1552.8 775.4L1554 820.2L1555.1 797L1556.2 773.7L1557.2 750.5L1558.3 727.2L1559.4 704L1560.4 729.9L1561.5 755.8L1562.5 781.7L1563.5 807.6L1564.5 833.5L1565.6 859.4L1566.8 782.2L1568.1 705L1569.2 729.9L1570.4 754.7L1571.5 779.6L1572.7 756.7L1573.9 733.9L1574.9 799.7L1575.9 865.6L1576.9 931.4L1577.9 997.3L1579.2 846.6L1580.5 695.9L1581.9 758.1L1583.3 820.3L1584.5 778.8L1585.7 737.3L1586.8 695.8L1588.2 811.5L1589.6 927.2L1591.1 806.7L1592.5 686.2L1593.4 720.7L1594.3 755.1L1595.6 744L1596.9 732.9L1598.2 721.9L1599.4 760.3L1600.6 798.8L1601.8 837.2L1603 767L1604.3 696.8L1605.3 736.9L1606.3 777L1607.3 817L1608.4 800.7L1609.5 784.4L1610.7 768.1L1611.8 751.8L1612.9 735.5L1614 719.1L1615 761.8L1616.1 804.5L1617.1 847.1L1618.1 889.8L1619.2 850.9L1620.2 812L1621.2 773.1L1622.2 734.2L1623.2 695.3L1624.2 712.9L1625.2 730.4L1626.2 748L1627.3 765.6L1628.5 751.2L1629.8 736.8L1631 766.6L1632.1 796.4L1633.3 826.1L1634.5 855.9L1635.8 772.5L1637 689.1L1638.3 744.8L1639.5 800.5L1640.8 856.2L1642 810L1643.1 763.9L1644.3 717.7L1645.6 867.4L1646.9 1017.1L1648 867.2L1649.1 717.2L1650.2 745.7L1651.2 774.1L1652.2 802.5L1653.3 831L1654.7 784.3L1656.2 737.7L1657.6 771.1L1659.1 804.4L1660.3 776.9L1661.5 749.4L1662.7 721.9L1663.8 694.4L1664.9 726.5L1666 758.5L1667 790.5L1668.1 822.5L1669.4 776.7L1670.8 730.8L1671.9 842.4L1673 954.1L1674.1 891.4L1675.1 828.7L1676.2 766.1L1677.2 703.4L1678.4 737.9L1679.6 772.5L1681 730.6L1682.4 688.7L1683.7 786.9L1685 885.1L1686.1 821.4L1687.2 757.7L1688.4 694L1689.4 744.9L1690.3 795.7L1691.4 785.4L1692.5 775.1L1693.6 764.8L1694.6 754.5L1695.7 744.2L1696.8 733.9L1697.8 743.3L1698.9 752.6L1700 761.9L1701.1 771.2L1702.1 780.5L1703.2 767.3L1704.3 754L1705.4 740.8L1706.5 774.1L1707.7 807.4L1708.8 840.7L1709.9 810L1711.1 779.3L1712.2 748.6L1713.4 717.8L1714.4 733.1L1715.4 748.4L1716.4 763.7L1717.5 779L1718.5 794.3L1719.6 767.5L1720.7 740.6L1721.7 713.8L1722.8 686.9L1724.2 822.2L1725.6 957.6L1726.9 882.8L1728.2 808.1L1729.4 733.4L1730.7 770.7L1731.9 808L1733 787.3L1734.1 766.5L1735.3 745.8L1736.4 725.1L1737.5 746.1L1738.6 767.1L1739.8 788.2L1740.9 809.2L1742 830.2L1743.1 851.3L1744.1 799.8L1745.2 748.3L1746.2 696.7L1747.2 716.5L1748.2 736.3L1749.2 756.1L1750.2 775.8L1751.3 759.2L1752.4 742.5L1753.5 725.8L1754.5 774.3L1755.6 822.7L1756.7 871.1L1758 815.8L1759.3 760.4L1760.5 705.1L1761.7 801.6L1762.8 898.2L1763.9 994.7L1765 1091.2L1766.3 904.7L1767.6 718.2L1768.8 756.3L1770 794.4L1771.2 832.6L1772.3 783.6L1773.5 734.6L1774.6 796.4L1775.7 858.2L1776.7 823.9L1777.7 789.5L1778.7 755.2L1779.7 720.8L1780.7 686.5L1781.9 732.9L1783 779.4L1784.1 825.8L1785.3 759.6L1786.4 693.4L1787.5 806L1788.7 918.6L1789.9 1031.2L1790.6 879.4L1791.2 727.6L1792.2 777.2L1793.1 826.9L1794.1 801.9L1795.2 776.9L1796.2 751.9L1797.3 726.9L1798.3 750.1L1799.4 773.3L1800.5 796.5L1801.5 819.7L1802.6 797.1L1803.6 774.5L1804.7 751.9L1805.7 729.3L1806.7 706.7L1807.9 768.1L1809 829.6L1810.2 891L1811 794.5L1811.7 697.9L1813.1 746.9L1814.5 795.9L1815.6 776.4L1816.8 757L1817.9 737.5L1819 718.1L1820.2 839.7L1821.5 961.4L1822.8 1083L1823.8 964.7L1824.8 846.5L1825.9 728.2L1827 742.2L1828.1 756.2L1829.2 770.2L1830.3 784.2L1831.3 754.3L1832.3 724.5L1833.4 694.7L1834.5 747.7L1835.6 800.8L1836.7 853.8L1837.8 906.9L1838.9 959.9L1839.9 899.9L1841 839.9L1842 779.9L1843 719.9L1844 730.2L1845 740.5L1846 750.7L1847 761L1848.5 734.3L1850 707.5L1850.9 838.4L1851.8 969.3L1853.1 883.7L1854.4 798L1855.7 712.4L1857 802.9L1858.3 893.3L1859.6 842L1860.9 790.7L1862.1 739.3L1863.3 764.9L1864.5 790.4L1865.7 815.9L1867 841.4L1867.8 783.5L1868.7 725.6L1869.6 783.8L1870.5 841.9L1871.8 788.7L1873.2 735.5L1874.3 771.9L1875.5 808.3L1876.6 844.6L1877.6 792.6L1878.7 740.6L1879.7 688.6L1880.7 744L1881.8 799.4L1882.9 854.8L1884.2 780.3L1885.6 705.8L1886.8 741.8L1888 777.8L1889.1 813.8L1890.3 849.9L1891.4 797.3L1892.5 744.8L1893.6 692.2L1894.7 747.2L1895.9 802.2L1897.1 857.2L1898.2 822.2L1899.3 787.2L1900.4 752.2L1901.5 717.2L1902.9 823.4L1904.3 929.5L1905.4 888.1L1906.5 846.7L1907.6 805.3L1908.7 763.9L1909.8 722.5L1910.9 757.2L1911.9 792L1913 826.7L1914.1 800.5L1915.2 774.3L1916.3 748L1917.4 721.8L1918.5 695.5L1919.8 736.2L1921.1 776.9L1922.3 817.6L1923.5 758.2L1924.7 698.8L1925.8 726.1L1926.8 753.4L1927.8 780.7L1928.9 808L1930 778.2L1931.1 748.4L1932.3 718.6L1933.4 688.8L1934.6 722.2L1935.9 755.5L1937.1 788.9L1938.3 822.2L1939.1 762.5L1939.8 702.7L1940.2 759.5L1940.6 816.2L1941.8 784.3L1943 752.4L1944.2 720.5L1945.4 688.6L1946.5 773.2L1947.6 857.8L1948.7 942.4L1950 863.1L1951.3 783.9L1952.6 704.7L1953.8 797.2L1955 889.8L1956.3 805L1957.6 720.1L1958.9 753.1L1960.2 786.1L1961.4 765.2L1962.6 744.4L1963.8 723.5L1964.9 702.6L1966 737L1967 771.4L1968.1 805.9L1969.1 840.3L1970.5 774L1971.9 707.7L1973.2 818.1L1974.4 928.4L1975.7 1038.7L1976.7 921.1L1977.8 803.6L1978.8 686L1980.3 876.6L1981.7 1067.2L1982.9 878.6L1984 689.9L1985.1 758.5L1986.2 827.1L1987.3 895.7L1988.3 861.6L1989.3 827.5L1990.3 793.4L1991.3 759.3L1992.4 725.2L1993.5 814L1994.6 902.9L1995.7 991.7L1996.8 938L1997.8 884.4L1998.8 830.8L1999.8 777.1L2000.8 723.5L2001.9 746.1L2003 768.6L2004.2 791.2L2005.2 762.3L2006.3 733.3L2007.3 704.3L2008.5 715.4L2009.6 726.4L2010.7 737.5L2011.9 748.5L2013 759.6L2014.2 743.8L2015.5 727.9L2016.7 712.1L2017.9 738.2L2019 764.4L2020.2 741.2L2021.3 718L2022.4 694.9L2023.5 712.3L2024.5 729.7L2025.6 747.2L2026.6 764.6L2027.7 749.9L2028.7 735.3L2029.7 720.6L2030.7 705.9L2031.7 691.3L2032.8 828.7L2033.8 966.2L2034.8 1103.7L2035.9 1003.7L2036.9 903.7L2038 803.7L2039.1 703.7L2040.1 727.9L2041.1 752.2L2042.1 776.4L2043.1 800.6L2044.1 824.9L2045.4 795.6L2046.6 766.3L2047.9 737L2049 771.2L2050.1 805.3L2051.1 839.5L2052.5 789.8L2053.8 740.1L2054.8 959.9L2055.8 1179.7L2057.3 953.7L2058.7 727.8L2060 759.9L2061.2 792.1L2062.5 824.3L2063.8 779.2L2065.1 734.1L2066.3 689L2067.3 758.6L2068.3 828.2L2069.3 897.8L2070.5 857.1L2071.7 816.4L2072.9 775.8L2074.1 735.1L2075.2 760.4L2076.3 785.6L2077.4 810.9L2078.5 836.1L2080 767.4L2081.4 698.7L2082.4 722.5L2083.4 746.2L2084.5 770L2085.5 793.7L2086.5 817.5L2087.5 785L2088.5 752.5L2089.6 720L2091 792.1L2092.5 864.1L2093.6 831.9L2094.7 799.8L2095.8 767.6L2096.9 735.5L2097.9 758.2L2099 780.9L2100 803.7L2101 826.4L2102.4 774.6L2103.8 722.9L2104.9 760.1L2105.9 797.4L2107 834.7L2108.3 783.3L2109.7 732L2111 778.6L2112.2 825.2L2113.3 803.3L2114.3 781.3L2115.4 759.4L2116.4 737.5L2117.6 793.7L2118.8 849.9L2120 906L2121.2 962.2L2122.2 915.1L2123.2 867.9L2124.3 820.8L2125.3 773.6L2126.3 726.5L2127.4 884.5L2128.5 1042.4L2129.6 1200.4L2130.6 1104.9L2131.7 1009.5L2132.7 914L2133.7 818.6L2134.8 723.1L2135.8 826.9L2136.9 930.8L2137.9 1034.6L2139.1 936.3L2140.3 838L2141.5 739.7L2142.7 808.9L2143.9 878.2L2145 947.4L2146.2 1016.6L2147.4 912.9L2148.7 809.1L2149.9 705.4L2151 729.8L2152.1 754.2L2153.2 778.6L2154.3 803L2155.6 773.3L2156.9 743.7L2158.2 714L2159.3 759.3L2160.4 804.6L2161.5 849.9L2162.5 814.7L2163.6 779.5L2164.7 744.4L2165.8 709.2L2167 804.2L2168.2 899.2L2169.2 867.8L2170.3 836.5L2171.4 805.2L2172.4 773.9L2173.5 742.6L2174.5 711.2L2175.8 748L2177 784.8L2178.3 821.6L2179.7 768.8L2181.1 716L2182.4 793.9L2183.7 871.7L2185 949.6L2186.1 887.9L2187.1 826.2L2188.2 764.5L2189.3 702.8L2190.4 776.2L2191.6 849.6L2192.7 923L2193.7 870.7L2194.8 818.5L2195.8 766.2L2196.9 714" stroke="#ff00ff" stroke-width="4.3" stroke-dasharray="4 6.5"/>
</g>
<text class="tk" x="239.0" y="1704.8" text-anchor="middle">0</text>
<text class="tk" x="631.0" y="1704.8" text-anchor="middle">10</text>
<text class="tk" x="1023.0" y="1704.8" text-anchor="middle">20</text>
<text class="tk" x="1415.0" y="1704.8" text-anchor="middle">30</text>
<text class="tk" x="1807.0" y="1704.8" text-anchor="middle">40</text>
<text class="tk" x="2199.0" y="1704.8" text-anchor="middle">50</text>
<text class="tk" x="214.3" y="96.0" text-anchor="end">30</text>
<text class="tk" x="214.3" y="316.6" text-anchor="end">20</text>
<text class="tk" x="214.3" y="537.2" text-anchor="end">10</text>
<text class="tk" x="214.3" y="757.8" text-anchor="end">0</text>
<text class="tk" x="214.3" y="978.5" text-anchor="end">-10</text>
<text class="tk" x="214.3" y="1199.1" text-anchor="end">-20</text>
<text class="tk" x="214.3" y="1419.7" text-anchor="end">-30</text>
<text class="tk" x="214.3" y="1640.3" text-anchor="end">-40</text>
<text class="lb" x="1216" y="1796.7" text-anchor="middle">time (<tspan class="mu" dx="2">μ</tspan><tspan dx="4">s)</tspan></text>
<text class="lb" transform="translate(94,851.5) rotate(-90)" text-anchor="middle">amplitude (dB)</text>
<rect x="1766.3" y="132.8" width="373.29999999999995" height="304.7" fill="#fff" stroke="#262626" stroke-width="4"/>
<path d="M1783 177H1920" stroke="#000" stroke-width="4" fill="none" shape-rendering="crispEdges"/>
<text class="lg" x="1933.5" y="199.1">1 MHz</text>
<path d="M1783 250H1920" stroke="#0000ff" stroke-dasharray="21.7 7.6 4.6 7.7" stroke-width="4" fill="none" shape-rendering="crispEdges"/>
<text class="lg" x="1933.5" y="272.1">2 MHz</text>
<path d="M1783 322H1920" stroke="#ff0000" stroke-dasharray="26.5 15" stroke-width="4" fill="none" shape-rendering="crispEdges"/>
<text class="lg" x="1933.5" y="344.1">5 MHz</text>
<path d="M1783 394H1920" stroke="#ff00ff" stroke-dasharray="4 6.5" stroke-width="4" fill="none" shape-rendering="crispEdges"/>
<text class="lg" x="1933.5" y="416.1">10 MHz</text>
</svg></body></html>
